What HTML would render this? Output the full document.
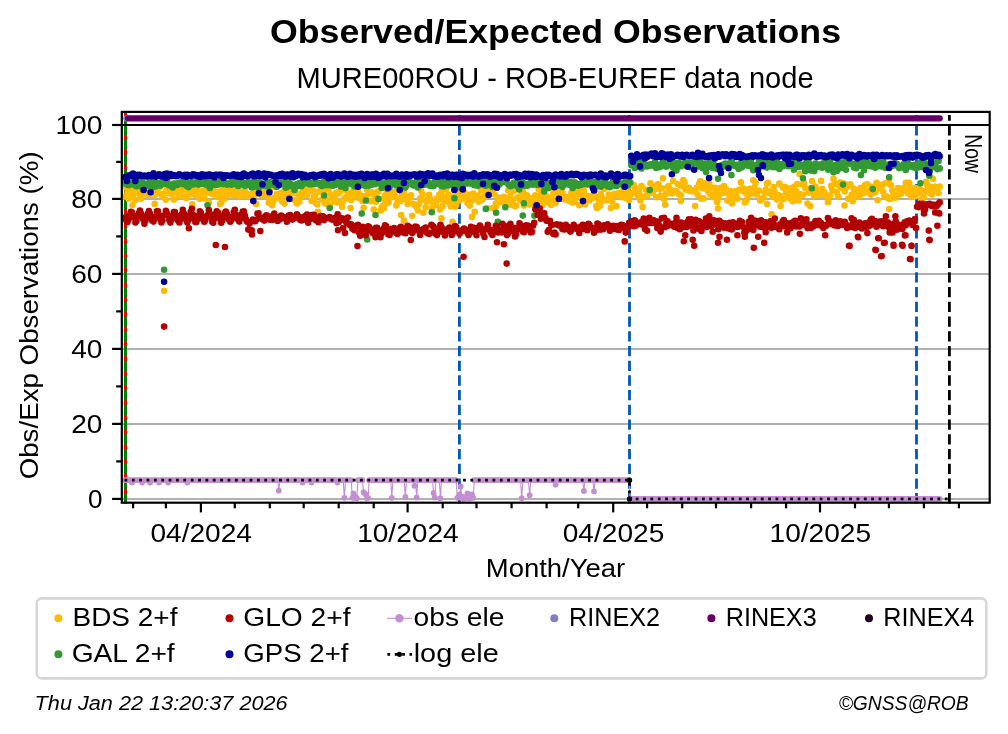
<!DOCTYPE html>
<html><head><meta charset="utf-8"><style>html,body{margin:0;padding:0;background:#fff;overflow:hidden}svg{display:block;will-change:transform}</style></head>
<body>
<svg width="1008" height="734" viewBox="0 0 1008 734" font-family='"Liberation Sans", sans-serif'>
<rect width="100%" height="100%" fill="#fff"/>
<text x="555.5" y="42.6" font-size="32.4" text-anchor="middle" font-weight="bold" font-style="normal" textLength="571" lengthAdjust="spacingAndGlyphs" >Observed/Expected Observations</text>
<text x="555.1" y="87.6" font-size="29.5" text-anchor="middle" font-weight="normal" font-style="normal" textLength="517" lengthAdjust="spacingAndGlyphs" >MURE00ROU - ROB-EUREF data node</text>
<line x1="121.8" x2="989.7" y1="499" y2="499" stroke="#b0b0b0" stroke-width="2.0"/>
<line x1="121.8" x2="989.7" y1="424" y2="424" stroke="#b0b0b0" stroke-width="2.0"/>
<line x1="121.8" x2="989.7" y1="349" y2="349" stroke="#b0b0b0" stroke-width="2.0"/>
<line x1="121.8" x2="989.7" y1="274" y2="274" stroke="#b0b0b0" stroke-width="2.0"/>
<line x1="121.8" x2="989.7" y1="199" y2="199" stroke="#b0b0b0" stroke-width="2.0"/>
<line x1="125.5" x2="125.5" y1="503.4" y2="111.9" stroke="#ee0000" stroke-width="3" stroke-dasharray="none"/>
<line x1="125.5" x2="125.5" y1="503.4" y2="115" stroke="#008000" stroke-width="3" stroke-dasharray="10.28 4.44"/>
<line x1="125.5" x2="125.5" y1="125.5" y2="115" stroke="#008000" stroke-width="3" stroke-dasharray="none"/>
<line x1="459.4" x2="459.4" y1="503.4" y2="115" stroke="#0057b7" stroke-width="2.8" stroke-dasharray="10.28 4.44"/>
<line x1="629.5" x2="629.5" y1="503.4" y2="115" stroke="#0057b7" stroke-width="2.8" stroke-dasharray="10.28 4.44"/>
<line x1="916.5" x2="916.5" y1="503.4" y2="115" stroke="#0057b7" stroke-width="2.8" stroke-dasharray="10.28 4.44"/>
<line x1="949.4" x2="949.4" y1="503.4" y2="115" stroke="#000" stroke-width="2.8" stroke-dasharray="10.28 4.44"/>
<path d="M125.2 196.5h0M126.3 187.2h0M127.5 192.3h0M128.6 198.7h0M129.7 195.9h0M130.9 189.6h0M132 194.2h0M133.1 195.3h0M134.2 186.6h0M135.4 200.1h0M136.5 191.6h0M137.6 191.9h0M138.8 187.1h0M139.9 194.8h0M141 198.8h0M142.2 194.6h0M143.3 190.6h0M144.4 194.3h0M145.5 191.2h0M146.7 194.8h0M147.8 195h0M148.9 193.4h0M150.1 191.2h0M151.2 194.7h0M152.3 187h0M153.5 194.2h0M154.6 195h0M155.7 193.4h0M156.8 189.2h0M158 186.1h0M159.1 187.8h0M160.2 186.5h0M161.4 194.2h0M162.5 196.6h0M164.7 193.4h0M165.9 191.7h0M167 190.2h0M168.1 192.7h0M169.3 191.6h0M170.4 192.3h0M171.5 194.2h0M172.7 188.3h0M173.8 199.6h0M174.9 188.7h0M176 192.5h0M177.2 191.4h0M178.3 191.9h0M179.4 196h0M180.6 192.5h0M181.7 188.5h0M182.8 189.2h0M184 189.5h0M185.1 197h0M186.2 197.9h0M187.3 195h0M188.5 192.8h0M189.6 194.2h0M190.7 191.2h0M191.9 188.9h0M193 192.3h0M194.1 190.2h0M195.3 195.2h0M196.4 193.8h0M197.5 190.8h0M198.6 195.2h0M199.8 198.8h0M200.9 192.1h0M202 191.8h0M203.2 190.5h0M204.3 198.3h0M205.4 192h0M206.5 190.2h0M207.7 192.4h0M208.8 202.4h0M209.9 190.6h0M211.1 193.5h0M212.2 189.7h0M213.3 194.4h0M214.5 191.9h0M215.6 191.9h0M216.7 197h0M217.8 191.9h0M219 195.6h0M220.1 204h0M221.2 195.7h0M222.4 190.1h0M223.5 188.6h0M224.6 198.5h0M225.8 194h0M226.9 193.2h0M228 194.9h0M229.1 188.7h0M230.3 193.4h0M231.4 190.8h0M232.5 190.2h0M233.7 195.6h0M234.8 190.5h0M235.9 194.8h0M237.1 195h0M238.2 192.7h0M239.3 196.3h0M240.4 191.2h0M241.6 194.4h0M242.7 194.3h0M243.8 196h0M245 191.3h0M246.1 193.4h0M247.2 194h0M248.3 194.2h0M249.5 195.9h0M250.6 194.4h0M251.7 194.1h0M252.9 196.2h0M254 195.8h0M255.1 189.4h0M256.3 189.5h0M257.4 191.9h0M258.5 193.1h0M259.6 193.6h0M260.8 192.6h0M261.9 195.4h0M263 191.6h0M264.2 189.2h0M265.3 191.1h0M266.4 189.7h0M267.6 196.9h0M268.7 202.7h0M269.8 189.8h0M270.9 197.8h0M272.1 201.2h0M273.2 201.6h0M274.3 198.3h0M275.5 187.1h0M276.6 194.2h0M277.7 196.1h0M278.8 197.6h0M280 198.6h0M281.1 193.1h0M282.2 201.6h0M283.4 192.6h0M284.5 203.6h0M285.6 195h0M286.8 193.8h0M287.9 190.6h0M289 191.3h0M290.1 196.9h0M291.3 189.4h0M292.4 191.6h0M293.5 192h0M294.7 200.2h0M295.8 193.1h0M296.9 203.5h0M298.1 194.2h0M299.2 201.8h0M300.3 196.8h0M301.4 196.4h0M302.6 192.1h0M303.7 188.4h0M304.8 193.3h0M306 189.6h0M307.1 195.3h0M308.2 190.8h0M309.4 190.9h0M310.5 189.8h0M311.6 200.9h0M312.7 190.1h0M313.9 196.5h0M315 196.2h0M316.1 203.3h0M317.3 204.4h0M318.4 191.8h0M319.5 191.8h0M320.6 188.3h0M321.8 199.6h0M322.9 191.8h0M324 193.6h0M325.2 203.6h0M326.3 186.1h0M327.4 200.4h0M328.6 189h0M329.7 205.4h0M330.8 194.2h0M331.9 195.3h0M333.1 196.6h0M334.2 201.5h0M335.3 199h0M336.5 192.6h0M337.6 202.4h0M338.7 193.2h0M339.9 191.8h0M341 189.4h0M342.1 185.1h0M343.2 200.9h0M344.4 198.2h0M345.5 190.1h0M346.6 196.7h0M347.8 192.8h0M348.9 198.4h0M350 196.6h0M351.2 200.1h0M352.3 195.8h0M353.4 190.5h0M354.5 195.6h0M355.7 192.9h0M356.8 192.3h0M357.9 190.6h0M359.1 198.3h0M360.2 195.3h0M361.3 198.1h0M362.4 201h0M363.6 207.7h0M364.7 196.1h0M365.8 197.6h0M367 189.4h0M368.1 194.3h0M369.2 201.2h0M370.4 193.3h0M371.5 192.2h0M372.6 201.2h0M373.7 209.5h0M374.9 196.9h0M376 201.7h0M377.1 192h0M378.3 191.4h0M379.4 198.7h0M380.5 210.5h0M381.7 207.9h0M382.8 205.8h0M383.9 199.6h0M385 195.3h0M386.2 202h0M387.3 193.4h0M388.4 202.7h0M389.6 197.8h0M390.7 195.4h0M391.8 193.3h0M392.9 197h0M394.1 191.8h0M395.2 196.2h0M396.3 205.4h0M397.5 202.1h0M398.6 199.4h0M399.7 199.4h0M400.9 200.9h0M402 194.9h0M403.1 196.5h0M404.2 192.2h0M405.4 196h0M406.5 199.2h0M407.6 203.9h0M408.8 198.3h0M409.9 197.5h0M411 195.4h0M412.2 215.7h0M413.3 203.8h0M414.4 204.9h0M415.5 205.7h0M416.7 207.2h0M417.8 210.2h0M418.9 204.1h0M420.1 198.5h0M421.2 190.7h0M422.3 194.3h0M423.5 199.7h0M424.6 199.8h0M425.7 207.4h0M426.8 201.7h0M428 200.5h0M429.1 194.8h0M430.2 201.3h0M431.4 199.9h0M432.5 208.2h0M433.6 204.1h0M434.7 201.8h0M435.9 204.8h0M437 198.4h0M438.1 199.7h0M439.3 194.8h0M440.4 199.1h0M441.5 191.6h0M442.7 205.9h0M443.8 196.7h0M444.9 201.1h0M446 189.3h0M447.2 199.6h0M448.3 194.5h0M449.4 202.7h0M450.6 206.2h0M451.7 196.5h0M452.8 200.6h0M454 197.4h0M455.1 200.3h0M456.2 204.9h0M457.3 191.8h0M458.5 197.1h0M459.6 200.5h0M460.7 198.1h0M461.9 190.3h0M463 198.6h0M464.1 192.3h0M465.2 197.9h0M466.4 198.6h0M467.5 203.3h0M468.6 194.9h0M469.8 205.7h0M470.9 201.2h0M472 216.9h0M473.2 193.5h0M474.3 196.6h0M475.4 197.4h0M476.5 199.5h0M477.7 195.5h0M478.8 201.8h0M479.9 199.2h0M481.1 190h0M482.2 199.6h0M483.3 190.4h0M484.5 196.7h0M485.6 196.5h0M486.7 194.2h0M487.8 208.3h0M489 189.5h0M490.1 194.1h0M491.2 192.1h0M492.4 192.1h0M493.5 207.9h0M494.6 194.5h0M495.8 203.5h0M496.9 204.2h0M498 198.8h0M499.1 197.7h0M500.3 202.1h0M501.4 198.2h0M502.5 199.9h0M503.7 196.8h0M504.8 201.5h0M505.9 205.2h0M507 199h0M508.2 190.3h0M509.3 200.2h0M510.4 196.2h0M511.6 205h0M512.7 202.3h0M513.8 191h0M515 206.2h0M516.1 205.7h0M517.2 197.8h0M518.3 197.3h0M519.5 196.9h0M520.6 200.2h0M521.7 192.6h0M522.9 191.2h0M524 205.6h0M525.1 197.9h0M526.3 195h0M527.4 195.8h0M528.5 198.1h0M529.6 204.4h0M530.8 198.7h0M531.9 203.1h0M533 204.2h0M534.2 197.1h0M535.3 195.3h0M536.4 205.5h0M537.6 199.9h0M538.7 189.1h0M539.8 202.7h0M540.9 194h0M542.1 198.9h0M543.2 199.6h0M544.3 200h0M545.5 188.3h0M546.6 196.4h0M547.7 201.8h0M548.8 202.8h0M550 199.1h0M551.1 204.9h0M552.2 197.6h0M553.4 193.7h0M554.5 188.7h0M555.6 203.1h0M556.8 182.3h0M557.9 189.9h0M559 194.7h0M560.1 196.5h0M561.3 188.3h0M562.4 192.2h0M563.5 199.3h0M564.7 198.1h0M565.8 196.9h0M566.9 199.7h0M568.1 198.3h0M569.2 201h0M570.3 200h0M571.4 192.9h0M572.6 202.6h0M573.7 198.6h0M574.8 201.8h0M576 192.9h0M577.1 193.9h0M578.2 189.6h0M579.3 205.2h0M580.5 190.4h0M581.6 198.4h0M582.7 196h0M583.9 190.8h0M585 204.2h0M586.1 196.3h0M587.3 196h0M588.4 198.3h0M589.5 200.2h0M590.6 197.7h0M591.8 198.6h0M592.9 195.6h0M594 193.7h0M595.2 189.4h0M596.3 206h0M597.4 197.4h0M598.6 199.9h0M599.7 205.9h0M600.8 193.8h0M601.9 197.6h0M603.1 200.8h0M604.2 188.7h0M605.3 188.1h0M606.5 200.2h0M607.6 200h0M608.7 194.5h0M609.9 198.4h0M611 207.7h0M612.1 201.4h0M613.2 194.6h0M614.4 193.7h0M615.5 195.1h0M616.6 206.1h0M617.8 195.5h0M618.9 193.1h0M620 195.7h0M621.1 197.2h0M622.3 196.4h0M623.4 189.7h0M624.5 194.5h0M625.7 198.1h0M626.8 191.7h0M627.9 187.3h0M629.1 199.9h0M630.2 194h0M631.3 194.4h0M632.4 193h0M633.6 184.7h0M634.7 187.6h0M635.8 190.5h0M637 193.7h0M638.1 196.5h0M639.2 192.1h0M640.4 200.5h0M641.5 186.1h0M642.6 207.1h0M643.7 197h0M644.9 196.3h0M646 189.8h0M647.1 195.8h0M648.3 190.3h0M649.4 191.8h0M650.5 183.2h0M651.7 189h0M652.8 192.7h0M653.9 187.6h0M655 189h0M656.2 197.3h0M657.3 184.6h0M658.4 184.1h0M659.6 189.1h0M660.7 195.6h0M661.8 188.3h0M662.9 178.2h0M664.1 198.9h0M665.2 204.8h0M666.3 193.5h0M667.5 187h0M668.6 186.1h0M669.7 188.7h0M670.9 192.2h0M672 193.5h0M673.1 181.1h0M674.2 190.7h0M675.4 190.8h0M676.5 191.5h0M677.6 184h0M678.8 194h0M679.9 185.2h0M681 195.3h0M682.2 185.9h0M683.3 180h0M684.4 182.3h0M685.5 189.5h0M686.7 188.4h0M687.8 190.2h0M688.9 187.8h0M690.1 191.1h0M691.2 190h0M692.3 191.1h0M693.4 191h0M694.6 191.6h0M695.7 191.7h0M696.8 187.5h0M698 195.3h0M699.1 183.8h0M700.2 181.4h0M701.4 198.8h0M702.5 188.2h0M703.6 198.4h0M704.7 183.4h0M705.9 188.7h0M707 186.2h0M708.1 191.6h0M709.3 183.5h0M710.4 194.2h0M711.5 187.5h0M712.7 197h0M713.8 196.2h0M714.9 187.9h0M716 192.5h0M717.2 202.2h0M718.3 198.1h0M719.4 194.6h0M720.6 187.8h0M721.7 192.9h0M722.8 191.9h0M724 186h0M725.1 192.6h0M726.2 189.3h0M727.3 200.6h0M728.5 192.9h0M729.6 197.9h0M730.7 191.4h0M731.9 203.4h0M733 198.5h0M734.1 191.3h0M735.2 194.9h0M736.4 195.5h0M737.5 198.7h0M738.6 190.1h0M739.8 189.5h0M740.9 182.4h0M742 190.6h0M743.2 188.4h0M744.3 188.9h0M745.4 192.7h0M746.5 200.3h0M747.7 196h0M748.8 193.8h0M749.9 188.7h0M751.1 192.1h0M752.2 193.4h0M753.3 180.2h0M754.5 187.2h0M755.6 182.6h0M756.7 194.4h0M757.8 191.5h0M759 190.5h0M760.1 200.6h0M761.2 199.3h0M762.4 198.2h0M763.5 197.8h0M764.6 192.4h0M765.7 189.8h0M766.9 183.8h0M768 182.7h0M769.1 193h0M770.3 191.5h0M771.4 192.5h0M772.5 196.4h0M773.7 187.1h0M774.8 192.1h0M775.9 196h0M777 199.6h0M778.2 195h0M779.3 183.5h0M780.4 196.1h0M781.6 199.7h0M782.7 187.6h0M783.8 199.1h0M785 187.1h0M786.1 192.3h0M787.2 191.2h0M788.3 195.5h0M789.5 188.6h0M790.6 198.8h0M791.7 191.2h0M792.9 201.2h0M794 186.8h0M795.1 196.3h0M796.3 191.4h0M797.4 184.1h0M798.5 200.4h0M799.6 174.1h0M800.8 194.4h0M801.9 184.3h0M803 195h0M804.2 183.1h0M805.3 188h0M806.4 188.6h0M807.5 203.6h0M808.7 192.8h0M809.8 192h0M810.9 188.1h0M812.1 181.1h0M813.2 192.2h0M814.3 196.3h0M815.5 186.5h0M816.6 190.3h0M817.7 191.5h0M818.8 193.8h0M820 195.2h0M821.1 180.9h0M822.2 188.8h0M823.4 193.6h0M824.5 192.6h0M825.6 196h0M826.8 195.6h0M827.9 202.3h0M829 196.4h0M830.1 195.4h0M831.3 185.9h0M832.4 190.1h0M833.5 178.7h0M834.7 183.3h0M835.8 183.8h0M836.9 192.2h0M838.1 196.8h0M839.2 186.1h0M840.3 182.5h0M841.4 185.5h0M842.6 188.3h0M843.7 183.5h0M844.8 191.4h0M846 184.3h0M847.1 187.1h0M848.2 198.8h0M849.3 185.3h0M850.5 184.2h0M851.6 194.5h0M852.7 201.2h0M853.9 188.8h0M855 189.7h0M856.1 197h0M857.3 193h0M858.4 193.7h0M859.5 196.3h0M860.6 187.9h0M861.8 188.4h0M862.9 192.9h0M864 192.9h0M865.2 184.7h0M866.3 191.3h0M867.4 184.4h0M868.6 192.4h0M869.7 190.8h0M870.8 194.7h0M871.9 186.7h0M873.1 189.9h0M874.2 189.8h0M875.3 192.3h0M876.5 182.9h0M877.6 200.3h0M878.7 188.3h0M879.8 188.4h0M881 187.8h0M882.1 184.9h0M883.2 191.8h0M884.4 196.7h0M885.5 183.3h0M886.6 196.5h0M887.8 197.9h0M888.9 180h0M890 199.1h0M891.1 185.2h0M892.3 190.5h0M893.4 194.6h0M894.5 197.5h0M895.7 197.7h0M896.8 194.8h0M897.9 188.1h0M899.1 189.4h0M900.2 194.5h0M901.3 193.3h0M902.4 188.3h0M903.6 190.6h0M904.7 189.1h0M905.8 182.7h0M907 191.3h0M908.1 193.4h0M909.2 182.7h0M910.4 187.6h0M911.5 197h0M912.6 189.9h0M913.7 196.2h0M914.9 196.4h0M916 188.1h0M917.1 193.7h0M918.3 190.9h0M919.4 188.5h0M920.5 189.7h0M921.6 199.6h0M922.8 193.7h0M923.9 197.4h0M925 191h0M926.2 181.7h0M927.3 184.9h0M928.4 185.7h0M929.6 192.8h0M930.7 190.1h0M931.8 194.4h0M932.9 178.8h0M934.1 186.8h0M935.2 186.8h0M936.3 190.7h0M937.5 187.3h0M938.6 193.1h0M939.7 186.6h0M164.1 290.7h0M132.5 205.3h0M154.7 203.9h0M165.8 199.7h0M192.2 204.4h0M221.4 202.5h0M222.8 212.8h0M256.1 203.9h0M272.2 205.3h0M297.8 201.7h0M317.8 211.7h0M342.2 206.7h0M350.6 208h0M383.9 208h0M401.1 215h0M403.9 220.6h0M423.3 212.8h0M440 209.4h0M441.4 218.3h0M452.5 221.9h0M455.3 206.7h0M474.7 211.7h0M495.6 206.7h0M542.2 205.3h0M596.9 208h0M610.8 208h0M680.8 201h0M695.1 206.1h0M718 208.5h0M744.8 202.5h0M767.1 204h0M771.6 214.4h0M780.5 206.1h0M810.3 206.1h0M844.5 205.5h0M889.2 209h0" stroke="#fdba02" stroke-width="6.6" stroke-linecap="round" fill="none"/>
<path d="M125.2 182h0M126.3 184.3h0M127.5 182.4h0M128.6 185.2h0M129.7 184.6h0M130.9 184.4h0M132 183.6h0M133.1 182h0M134.2 180h0M135.4 185.5h0M136.5 186.3h0M137.6 186h0M138.8 183.1h0M139.9 181.5h0M141 186.2h0M142.2 179.8h0M143.3 185.9h0M144.4 184.5h0M145.5 186.2h0M146.7 183.7h0M147.8 185.8h0M148.9 185.7h0M150.1 181.5h0M151.2 187h0M152.3 182h0M153.5 187.1h0M154.6 182h0M155.7 185.6h0M156.8 186.1h0M158 183.2h0M159.1 183.6h0M160.2 185.6h0M161.4 182.5h0M162.5 183.1h0M164.7 183.9h0M165.9 183.9h0M167 181.1h0M168.1 184.2h0M169.3 185.5h0M170.4 184.6h0M171.5 184.2h0M172.7 187.5h0M173.8 183.5h0M174.9 184.2h0M176 183.5h0M177.2 184.9h0M178.3 184.1h0M179.4 182.5h0M180.6 183.2h0M181.7 182.4h0M182.8 184.3h0M184 183h0M185.1 182.2h0M186.2 181.5h0M187.3 186.4h0M188.5 187.1h0M189.6 184.1h0M190.7 184.2h0M191.9 182.2h0M193 184.5h0M194.1 182.9h0M195.3 183.8h0M196.4 184.2h0M197.5 181.1h0M198.6 184.7h0M199.8 183.1h0M200.9 183.9h0M202 182.9h0M203.2 180.4h0M204.3 181.8h0M205.4 184.4h0M206.5 185.1h0M207.7 180.5h0M208.8 182.9h0M209.9 188h0M211.1 183.4h0M212.2 184.7h0M213.3 182.1h0M214.5 183.9h0M215.6 185h0M216.7 182.5h0M217.8 184.8h0M219 183.3h0M220.1 182.7h0M221.2 179.9h0M222.4 183.9h0M223.5 180.2h0M224.6 183h0M225.8 184.2h0M226.9 184.7h0M228 183.3h0M229.1 183.6h0M230.3 183.2h0M231.4 184.8h0M232.5 179.7h0M233.7 182.6h0M234.8 181.9h0M235.9 184.2h0M237.1 182.9h0M238.2 186h0M239.3 182.9h0M240.4 182.7h0M241.6 184.4h0M242.7 182.4h0M243.8 182.7h0M245 186h0M246.1 185.5h0M247.2 183h0M248.3 182h0M249.5 184.4h0M250.6 182.9h0M251.7 187.5h0M252.9 187.1h0M254 181.2h0M255.1 182.3h0M256.3 185.7h0M257.4 183h0M258.5 187.9h0M259.6 182.2h0M260.8 183.1h0M261.9 185.1h0M263 185.4h0M264.2 185.8h0M265.3 184h0M266.4 186.3h0M267.6 182.6h0M268.7 185.9h0M269.8 183.1h0M270.9 182.1h0M272.1 183.8h0M273.2 184h0M274.3 185.1h0M275.5 181.3h0M276.6 186.9h0M277.7 181.5h0M278.8 185.3h0M280 180.1h0M281.1 183.9h0M282.2 181.5h0M283.4 181.6h0M284.5 182.2h0M285.6 187.8h0M286.8 187.2h0M287.9 185.2h0M289 182.6h0M290.1 183.5h0M291.3 186h0M292.4 185.6h0M293.5 185.2h0M294.7 184.8h0M295.8 185.3h0M296.9 184.3h0M298.1 186.2h0M299.2 183h0M300.3 184.6h0M301.4 186.3h0M302.6 182.5h0M303.7 181.4h0M304.8 183.5h0M306 182.4h0M307.1 183.3h0M308.2 182.3h0M309.4 184.2h0M310.5 184.3h0M311.6 184.1h0M312.7 183h0M313.9 183.8h0M315 182.4h0M316.1 183.8h0M317.3 182.5h0M318.4 182.7h0M319.5 183.2h0M320.6 185h0M321.8 186h0M322.9 182.4h0M324 181.9h0M325.2 184.3h0M326.3 185.3h0M327.4 183.5h0M328.6 181.9h0M329.7 185.3h0M330.8 183.2h0M331.9 183.7h0M333.1 185.8h0M334.2 182.5h0M335.3 184.9h0M336.5 182.5h0M337.6 183.3h0M338.7 180.3h0M339.9 182.8h0M341 186.6h0M342.1 180.3h0M343.2 182.1h0M344.4 183.9h0M345.5 188.1h0M346.6 184h0M347.8 181.6h0M348.9 183.1h0M350 182.3h0M351.2 184.1h0M352.3 182.4h0M353.4 182.2h0M354.5 186.5h0M355.7 183.4h0M356.8 186.3h0M357.9 179.8h0M359.1 185.6h0M360.2 180.3h0M361.3 182.5h0M362.4 184.7h0M363.6 183.6h0M364.7 185.8h0M365.8 181.7h0M367 184.9h0M368.1 185.9h0M369.2 183.5h0M370.4 181.7h0M371.5 184.7h0M372.6 182.7h0M373.7 182.5h0M374.9 184.2h0M376 179.2h0M377.1 183.4h0M378.3 182.8h0M379.4 182.7h0M380.5 182.3h0M381.7 187.9h0M382.8 185.6h0M383.9 184.1h0M385 183.2h0M386.2 182.9h0M387.3 188.8h0M388.4 182.5h0M389.6 187.3h0M390.7 179h0M391.8 184.4h0M392.9 183.5h0M394.1 181h0M395.2 184.1h0M396.3 185.4h0M397.5 182.5h0M398.6 179.9h0M399.7 183.4h0M400.9 183.2h0M402 186.9h0M403.1 186.6h0M404.2 181.2h0M405.4 187.6h0M406.5 185.4h0M407.6 179.7h0M408.8 182h0M409.9 183.6h0M411 182.6h0M412.2 183h0M413.3 185.4h0M414.4 185.1h0M415.5 185.6h0M416.7 181.3h0M417.8 187.5h0M418.9 181.1h0M420.1 183.4h0M421.2 181.2h0M422.3 182.7h0M423.5 183.4h0M424.6 184.8h0M425.7 182.4h0M426.8 180h0M428 182.4h0M429.1 183.3h0M430.2 185.9h0M431.4 184.7h0M432.5 185.4h0M433.6 186.1h0M434.7 181.5h0M435.9 182.3h0M437 183.3h0M438.1 183.9h0M439.3 181.5h0M440.4 179.8h0M441.5 186h0M442.7 185h0M443.8 186.4h0M444.9 184.7h0M446 181h0M447.2 179h0M448.3 185.5h0M449.4 181.8h0M450.6 182h0M451.7 180.6h0M452.8 184.8h0M454 186.3h0M455.1 182.2h0M456.2 184h0M457.3 185.1h0M458.5 181.8h0M459.6 187.2h0M460.7 184.9h0M461.9 183h0M463 185.7h0M464.1 183.1h0M465.2 181.7h0M466.4 182.6h0M467.5 183.4h0M468.6 182.6h0M469.8 182.1h0M470.9 180.8h0M472 184h0M473.2 180.1h0M474.3 185.2h0M475.4 184.8h0M476.5 182.3h0M477.7 185.7h0M478.8 182.9h0M479.9 183.9h0M481.1 181.5h0M482.2 182h0M483.3 184.8h0M484.5 180.8h0M485.6 185.7h0M486.7 183.8h0M487.8 183.6h0M489 181.3h0M490.1 185.3h0M491.2 182.8h0M492.4 187h0M493.5 178.5h0M494.6 183.8h0M495.8 185.7h0M496.9 180.7h0M498 185.1h0M499.1 184.8h0M500.3 180h0M501.4 182.8h0M502.5 181.8h0M503.7 181.9h0M504.8 180.3h0M505.9 181.5h0M507 182h0M508.2 184.2h0M509.3 185.4h0M510.4 186.3h0M511.6 185.3h0M512.7 184.3h0M513.8 182.8h0M515 185.3h0M516.1 185.8h0M517.2 185.1h0M518.3 182.2h0M519.5 185.3h0M520.6 181.1h0M521.7 184.3h0M522.9 182.9h0M524 185.7h0M525.1 185.6h0M526.3 184.3h0M527.4 185.7h0M528.5 184h0M529.6 184.6h0M530.8 181.2h0M531.9 184.6h0M533 183.4h0M534.2 184.6h0M535.3 181.2h0M536.4 182.8h0M537.6 184.9h0M538.7 184.4h0M539.8 182.9h0M540.9 184.2h0M542.1 180.1h0M543.2 185.6h0M544.3 187.1h0M545.5 186.2h0M546.6 183.9h0M547.7 183.4h0M548.8 188h0M550 187h0M551.1 182.7h0M552.2 185.1h0M553.4 180.7h0M554.5 184.5h0M555.6 181.7h0M556.8 183.4h0M557.9 181.6h0M559 185.6h0M560.1 185.1h0M561.3 185.8h0M562.4 187h0M563.5 181.6h0M564.7 183.5h0M565.8 180.5h0M566.9 184.3h0M568.1 183.4h0M569.2 184.8h0M570.3 181.6h0M571.4 182h0M572.6 188.1h0M573.7 183.3h0M574.8 182.3h0M576 184h0M577.1 183.9h0M578.2 185.7h0M579.3 184.4h0M580.5 184.9h0M581.6 184.8h0M582.7 180.4h0M583.9 184.2h0M585 181.7h0M586.1 182.7h0M587.3 184.4h0M588.4 181h0M589.5 184.4h0M590.6 182.1h0M591.8 182.1h0M592.9 182.6h0M594 182.1h0M595.2 183.9h0M596.3 185.9h0M597.4 182h0M598.6 186.1h0M599.7 184.4h0M600.8 186.7h0M601.9 183.2h0M603.1 183.9h0M604.2 181.4h0M605.3 181.4h0M606.5 185.2h0M607.6 186.2h0M608.7 185.1h0M609.9 187.3h0M611 184h0M612.1 185.2h0M613.2 180.1h0M614.4 183.6h0M615.5 185.9h0M616.6 185.9h0M617.8 181.3h0M618.9 183.7h0M620 183.4h0M621.1 184.3h0M622.3 183.6h0M623.4 185h0M624.5 185.7h0M625.7 178.8h0M626.8 182h0M627.9 185.4h0M629.1 181h0M630.2 182.5h0M631.3 165.3h0M632.4 165.4h0M633.6 162.9h0M634.7 168h0M635.8 161.4h0M637 166.7h0M638.1 166.7h0M639.2 162h0M640.4 163.5h0M641.5 168.4h0M642.6 164.1h0M643.7 165.2h0M644.9 166.2h0M646 164.9h0M647.1 166.5h0M648.3 165.4h0M649.4 165.8h0M650.5 164.4h0M651.7 164.2h0M652.8 165.6h0M653.9 164.4h0M655 161.7h0M656.2 168h0M657.3 164.5h0M658.4 165.6h0M659.6 167.3h0M660.7 166.4h0M661.8 163.9h0M662.9 159.4h0M664.1 163h0M665.2 165.2h0M666.3 166.8h0M667.5 164.1h0M668.6 165.3h0M669.7 163.8h0M670.9 165.4h0M672 160.7h0M673.1 167.8h0M674.2 164.7h0M675.4 163.2h0M676.5 170.6h0M677.6 166.9h0M678.8 162.9h0M679.9 164.2h0M681 166.2h0M682.2 164.7h0M683.3 163.8h0M684.4 165.3h0M685.5 162.2h0M686.7 165.3h0M687.8 162.8h0M688.9 162.8h0M690.1 165h0M691.2 167.4h0M692.3 163.3h0M693.4 163.2h0M694.6 158.6h0M695.7 161.6h0M696.8 163.3h0M698 161.1h0M699.1 166.5h0M700.2 161.3h0M701.4 164.3h0M702.5 168.1h0M703.6 166.3h0M704.7 163.9h0M705.9 169.7h0M707 165.1h0M708.1 165.1h0M709.3 166.7h0M710.4 160.4h0M711.5 165.6h0M712.7 167.9h0M713.8 164.3h0M714.9 168.1h0M716 168.3h0M717.2 168.9h0M718.3 166.7h0M719.4 168.5h0M720.6 165.9h0M721.7 167.5h0M722.8 164.8h0M724 165.6h0M725.1 163.6h0M726.2 164.9h0M727.3 164.4h0M728.5 165h0M729.6 163.3h0M730.7 164.5h0M731.9 160.3h0M733 164.6h0M734.1 165.8h0M735.2 166h0M736.4 164.8h0M737.5 165.7h0M738.6 169h0M739.8 168.3h0M740.9 162.9h0M742 167.2h0M743.2 164.6h0M744.3 163.2h0M745.4 161.5h0M746.5 164.7h0M747.7 165.7h0M748.8 163.7h0M749.9 159.4h0M751.1 162.6h0M752.2 167.3h0M753.3 170.3h0M754.5 167.9h0M755.6 165.6h0M756.7 165h0M757.8 164.3h0M759 159.7h0M760.1 161.5h0M761.2 160.5h0M762.4 166.3h0M763.5 162.7h0M764.6 164h0M765.7 166.4h0M766.9 167.6h0M768 161.4h0M769.1 164.6h0M770.3 164h0M771.4 162.4h0M772.5 167.1h0M773.7 165.9h0M774.8 166.5h0M775.9 167.2h0M777 162.4h0M778.2 164h0M779.3 168.9h0M780.4 164.2h0M781.6 164.1h0M782.7 166.3h0M783.8 165.3h0M785 164.4h0M786.1 164.6h0M787.2 165.5h0M788.3 166.2h0M789.5 165.2h0M790.6 161.9h0M791.7 165.4h0M792.9 165.6h0M794 159.8h0M795.1 164.9h0M796.3 164.2h0M797.4 163.9h0M798.5 166.9h0M799.6 166.7h0M800.8 165.8h0M801.9 164.7h0M803 178.3h0M804.2 167.4h0M805.3 165h0M806.4 162.2h0M807.5 166.6h0M808.7 162.6h0M809.8 164.4h0M810.9 170.4h0M812.1 166.2h0M813.2 166.7h0M814.3 171.1h0M815.5 163.6h0M816.6 165.3h0M817.7 165.3h0M818.8 166.9h0M820 164.5h0M821.1 165.1h0M822.2 167.8h0M823.4 163.3h0M824.5 162.9h0M825.6 160.6h0M826.8 164.3h0M827.9 163.7h0M829 164.9h0M830.1 160.7h0M831.3 165.6h0M832.4 166h0M833.5 172.3h0M834.7 170.8h0M835.8 164.7h0M836.9 170.9h0M838.1 164.1h0M839.2 168.5h0M840.3 162.7h0M841.4 166h0M842.6 167.9h0M843.7 162.3h0M844.8 162.4h0M846 169.7h0M847.1 163.9h0M848.2 163.1h0M849.3 161.7h0M850.5 163h0M851.6 164h0M852.7 163.8h0M853.9 167.5h0M855 165h0M856.1 168.3h0M857.3 164.2h0M858.4 160.6h0M859.5 164.9h0M860.6 162.5h0M861.8 166.2h0M862.9 164.7h0M864 170.3h0M865.2 162h0M866.3 166h0M867.4 162.9h0M868.6 163.4h0M869.7 165.9h0M870.8 166.1h0M871.9 162.3h0M873.1 166.7h0M874.2 164.5h0M875.3 167.8h0M876.5 162.4h0M877.6 165.9h0M878.7 164.4h0M879.8 164.6h0M881 166.5h0M882.1 161h0M883.2 161.9h0M884.4 164h0M885.5 167.9h0M886.6 167.1h0M887.8 166.7h0M888.9 167.6h0M890 164.1h0M891.1 165.3h0M892.3 166.1h0M893.4 163.7h0M894.5 164.9h0M895.7 163.8h0M896.8 163.7h0M897.9 166.3h0M899.1 168.1h0M900.2 166.9h0M901.3 167.4h0M902.4 165.7h0M903.6 164.4h0M904.7 167.4h0M905.8 170h0M907 167.6h0M908.1 163h0M909.2 164.9h0M910.4 165.1h0M911.5 166.1h0M912.6 167.1h0M913.7 166.5h0M914.9 164.8h0M916 168.2h0M917.1 164.8h0M918.3 167.5h0M919.4 163h0M920.5 164.8h0M921.6 160.9h0M922.8 166.9h0M923.9 162h0M925 163.4h0M926.2 165.5h0M927.3 166h0M928.4 167.3h0M929.6 170.3h0M930.7 168.1h0M931.8 162.6h0M932.9 165.3h0M934.1 167.1h0M935.2 165.7h0M936.3 160.7h0M937.5 169.2h0M938.6 161.1h0M939.7 168.4h0M164.1 269.7h0M207.5 205.3h0M324.2 195.5h0M329.7 208h0M365.8 200.5h0M378.3 198.9h0M375.5 215h0M361.7 213.6h0M367.2 239.4h0M294.4 190h0M431.7 212.2h0M454.4 198.3h0M485.8 208.9h0M496.1 212.8h0M505.3 207.2h0M519.2 189.4h0M523.9 203.3h0M522.8 215.6h0M497.8 221.9h0M534.4 215.6h0M544.2 191.4h0M649.7 190h0M706.1 172.1h0M718 178.7h0M731.4 175.1h0M738.9 168.3h0M793.9 169.8h0M805.2 171.3h0M828.2 169.8h0M843 184.6h0M860.9 175.1h0M889.2 177.2h0M811.8 188.2h0M872.8 189.1h0M920.4 183.2h0M929.3 175.7h0" stroke="#339933" stroke-width="6.6" stroke-linecap="round" fill="none"/>
<path d="M125.2 217.5h0M126.3 220.2h0M127.5 222h0M128.6 219.6h0M129.7 215.1h0M130.9 211.8h0M132 212.6h0M133.1 215.6h0M134.2 217.2h0M135.4 222.4h0M136.5 221h0M137.6 216.9h0M138.8 213.4h0M139.9 210.5h0M141 213.6h0M142.2 216.7h0M143.3 219.4h0M144.4 223.8h0M145.5 220.4h0M146.7 216.4h0M147.8 213.9h0M148.9 211.1h0M150.1 213.8h0M151.2 217.6h0M152.3 220.7h0M153.5 221.6h0M154.6 218.7h0M155.7 216.5h0M156.8 211.2h0M158 211.2h0M159.1 215.5h0M160.2 219h0M161.4 222.5h0M162.5 220.6h0M164.7 215.1h0M165.9 210.7h0M167 213.5h0M168.1 215.7h0M169.3 220h0M170.4 222.6h0M171.5 219.4h0M172.7 215.7h0M173.8 212.1h0M174.9 212.1h0M176 215.6h0M177.2 219h0M178.3 220.9h0M179.4 222.4h0M180.6 219h0M181.7 214.2h0M182.8 209.7h0M184 213.9h0M185.1 217.5h0M186.2 219.8h0M187.3 222.6h0M188.5 220.1h0M189.6 215.5h0M190.7 211.8h0M191.9 208.7h0M193 214.7h0M194.1 218.2h0M195.3 222h0M196.4 222h0M197.5 218.9h0M198.6 215.8h0M199.8 211.3h0M200.9 212.9h0M202 216.4h0M203.2 219.5h0M204.3 221.8h0M205.4 220h0M206.5 216.8h0M207.7 215h0M208.8 210h0M209.9 213.9h0M211.1 216.7h0M212.2 221.8h0M213.3 222.7h0M214.5 218.5h0M215.6 214.1h0M216.7 211.4h0M217.8 212.6h0M219 215.7h0M220.1 218.9h0M221.2 222.8h0M222.4 220.5h0M223.5 217.5h0M224.6 213.5h0M225.8 211.6h0M226.9 213.7h0M228 216.5h0M229.1 219.7h0M230.3 221.7h0M231.4 220h0M232.5 216.9h0M233.7 212h0M234.8 209.7h0M235.9 214.8h0M237.1 218.3h0M238.2 219.8h0M239.3 221.6h0M240.4 218.4h0M241.6 214.6h0M242.7 211.5h0M243.8 211.3h0M245 215.9h0M246.1 219.5h0M247.2 221.8h0M248.3 229.6h0M249.5 223.8h0M250.6 230.3h0M251.7 230.2h0M252.9 219.5h0M254 221.3h0M255.1 221.3h0M256.3 219.7h0M257.4 213.6h0M258.5 213.2h0M259.6 217.2h0M260.8 218.6h0M261.9 218h0M263 218.3h0M264.2 220.6h0M265.3 216.4h0M266.4 215.2h0M267.6 216.9h0M268.7 218.3h0M269.8 219.7h0M270.9 216.6h0M272.1 219.9h0M273.2 216.4h0M274.3 213.5h0M275.5 216.5h0M276.6 217.2h0M277.7 220.9h0M278.8 219.6h0M280 219.2h0M281.1 215.5h0M282.2 217.4h0M283.4 216.8h0M284.5 218.2h0M285.6 217.5h0M286.8 221.7h0M287.9 219.4h0M289 215.3h0M290.1 215h0M291.3 216.4h0M292.4 219.6h0M293.5 217.2h0M294.7 218h0M295.8 217.5h0M296.9 214.2h0M298.1 216.1h0M299.2 216.7h0M300.3 220h0M301.4 220.5h0M302.6 220h0M303.7 217.6h0M304.8 216.3h0M306 217.8h0M307.1 214.6h0M308.2 222.8h0M309.4 219.2h0M310.5 218.9h0M311.6 215.1h0M312.7 216.1h0M313.9 214.9h0M315 216.9h0M316.1 220.4h0M317.3 217.6h0M318.4 222.3h0M319.5 220.2h0M320.6 216.1h0M321.8 218.3h0M322.9 216.4h0M324 220.1h0M325.2 218.8h0M326.3 218h0M327.4 218.2h0M328.6 217.8h0M329.7 217h0M330.8 218.5h0M331.9 219.4h0M333.1 219.6h0M334.2 220.1h0M335.3 217.9h0M336.5 223.3h0M337.6 214.4h0M338.7 222.2h0M339.9 218.2h0M341 218h0M342.1 218.2h0M343.2 228.1h0M344.4 220.6h0M345.5 220.9h0M346.6 222.6h0M347.8 217.5h0M348.9 224.1h0M350 225.2h0M351.2 224.4h0M352.3 228.4h0M353.4 229.2h0M354.5 230.3h0M355.7 226.5h0M356.8 225.5h0M357.9 224.7h0M359.1 232.7h0M360.2 235.7h0M361.3 228.4h0M362.4 226.8h0M363.6 230.6h0M364.7 231.9h0M365.8 235.3h0M367 231.1h0M368.1 226.2h0M369.2 227.1h0M370.4 230h0M371.5 229.5h0M372.6 233.1h0M373.7 231.3h0M374.9 233.7h0M376 227.9h0M377.1 227.8h0M378.3 231.2h0M379.4 232.4h0M380.5 237.3h0M381.7 233.4h0M382.8 230h0M383.9 228.3h0M385 225.4h0M386.2 226.4h0M387.3 231.2h0M388.4 234.5h0M389.6 234.9h0M390.7 230.5h0M391.8 228.7h0M392.9 229.1h0M394.1 228.1h0M395.2 231.7h0M396.3 232.9h0M397.5 233.9h0M398.6 229.4h0M399.7 228h0M400.9 226.8h0M402 228h0M403.1 232.5h0M404.2 230.9h0M405.4 233.2h0M406.5 230.7h0M407.6 225.9h0M408.8 226.8h0M409.9 227.2h0M411 231.2h0M412.2 233.1h0M413.3 230.9h0M414.4 228.2h0M415.5 226.6h0M416.7 227h0M417.8 230.4h0M418.9 230h0M420.1 234.9h0M421.2 231.4h0M422.3 230.5h0M423.5 229.1h0M424.6 228.3h0M425.7 227.6h0M426.8 232.6h0M428 233.5h0M429.1 233.9h0M430.2 232.9h0M431.4 224.7h0M432.5 225.9h0M433.6 226.8h0M434.7 231.7h0M435.9 234.1h0M437 235.1h0M438.1 232.3h0M439.3 228.5h0M440.4 224.7h0M441.5 227.1h0M442.7 230.9h0M443.8 232.5h0M444.9 235.4h0M446 231.1h0M447.2 229.4h0M448.3 228.9h0M449.4 227.6h0M450.6 231.7h0M451.7 234.9h0M452.8 232.8h0M454 229.2h0M455.1 226.1h0M456.2 227.1h0M457.3 231.4h0M458.5 232.3h0M459.6 233.8h0M460.7 230.6h0M461.9 231.1h0M463 230.1h0M464.1 228.5h0M465.2 229.7h0M466.4 231.6h0M467.5 232.8h0M468.6 235h0M469.8 232.7h0M470.9 226.7h0M472 228.5h0M473.2 227.6h0M474.3 229.2h0M475.4 232.6h0M476.5 235.3h0M477.7 229.9h0M478.8 227.3h0M479.9 225.6h0M481.1 228.6h0M482.2 229.3h0M483.3 233.7h0M484.5 237h0M485.6 228.6h0M486.7 228.9h0M487.8 224.7h0M489 229.3h0M490.1 230.7h0M491.2 233h0M492.4 234.9h0M493.5 229.8h0M494.6 229.6h0M495.8 225.9h0M496.9 226.6h0M498 232.5h0M499.1 230.9h0M500.3 230.3h0M501.4 232.5h0M502.5 223.8h0M503.7 228.6h0M504.8 229.7h0M505.9 226.3h0M507 235.1h0M508.2 233.5h0M509.3 228.4h0M510.4 223.9h0M511.6 228.9h0M512.7 227.5h0M513.8 231.4h0M515 236.5h0M516.1 234.2h0M517.2 229.7h0M518.3 227.5h0M519.5 223.3h0M520.6 225.1h0M521.7 228.4h0M522.9 231.4h0M524 232.2h0M525.1 229.9h0M526.3 225.3h0M527.4 228.7h0M528.5 225.8h0M529.6 228.3h0M530.8 232.4h0M531.9 231.9h0M533 225.7h0M534.2 222.8h0M535.3 209.2h0M536.4 205.8h0M537.6 214.8h0M538.7 214.4h0M539.8 208.6h0M540.9 218.8h0M542.1 216.5h0M543.2 217h0M544.3 213.4h0M545.5 218h0M546.6 220.7h0M547.7 231.8h0M548.8 230h0M550 220.7h0M551.1 224.4h0M552.2 225.1h0M553.4 234h0M554.5 232.5h0M555.6 234.4h0M556.8 224.4h0M557.9 224.7h0M559 225.4h0M560.1 224.9h0M561.3 226.4h0M562.4 229.1h0M563.5 228.6h0M564.7 229.4h0M565.8 224.8h0M566.9 226.7h0M568.1 227h0M569.2 229h0M570.3 231.6h0M571.4 230.1h0M572.6 228h0M573.7 224.8h0M574.8 226.6h0M576 228h0M577.1 229h0M578.2 229.8h0M579.3 233h0M580.5 226.9h0M581.6 228.8h0M582.7 224.7h0M583.9 227.1h0M585 229.3h0M586.1 229.3h0M587.3 230.2h0M588.4 223.7h0M589.5 224.7h0M590.6 227.7h0M591.8 227.7h0M592.9 228.3h0M594 232.7h0M595.2 228.7h0M596.3 230.2h0M597.4 223.5h0M598.6 224.2h0M599.7 229.5h0M600.8 229.6h0M601.9 228.4h0M603.1 229.3h0M604.2 225.4h0M605.3 225.6h0M606.5 226.3h0M607.6 224.4h0M608.7 227.2h0M609.9 230.7h0M611 229.3h0M612.1 228.8h0M613.2 225.8h0M614.4 226.2h0M615.5 228.9h0M616.6 226h0M617.8 229.7h0M618.9 229.9h0M620 226.9h0M621.1 224.9h0M622.3 225.1h0M623.4 225.7h0M624.5 228.4h0M625.7 232.6h0M626.8 227h0M627.9 227.3h0M629.1 222.9h0M630.2 224.5h0M631.3 221.2h0M632.4 223.9h0M633.6 226.2h0M634.7 220.4h0M635.8 225.8h0M637 223.6h0M638.1 222.7h0M639.2 224h0M640.4 222.6h0M641.5 224.4h0M642.6 224.5h0M643.7 218.6h0M644.9 228.9h0M646 219.4h0M647.1 230.8h0M648.3 223.1h0M649.4 217.9h0M650.5 222.6h0M651.7 222.9h0M652.8 222.2h0M653.9 220.4h0M655 222.9h0M656.2 221.4h0M657.3 228.1h0M658.4 223.7h0M659.6 226h0M660.7 231.6h0M661.8 218.4h0M662.9 218h0M664.1 217.9h0M665.2 227.1h0M666.3 223.9h0M667.5 221.4h0M668.6 225.6h0M669.7 225.1h0M670.9 223.9h0M672 224.6h0M673.1 224.5h0M674.2 226.7h0M675.4 222.7h0M676.5 217.9h0M677.6 228h0M678.8 223.4h0M679.9 229.2h0M681 222.5h0M682.2 223h0M683.3 224.2h0M684.4 226.8h0M685.5 224.1h0M686.7 226.9h0M687.8 221.8h0M688.9 219.4h0M690.1 224.5h0M691.2 219.4h0M692.3 226.5h0M693.4 230.5h0M694.6 224.8h0M695.7 219.9h0M696.8 227.6h0M698 228.6h0M699.1 221.3h0M700.2 228.5h0M701.4 230.9h0M702.5 224.8h0M703.6 224.5h0M704.7 222.5h0M705.9 218.6h0M707 226.9h0M708.1 222.6h0M709.3 216.4h0M710.4 224.9h0M711.5 225.9h0M712.7 231.7h0M713.8 220.3h0M714.9 224.2h0M716 221.9h0M717.2 221h0M718.3 229.2h0M719.4 220.8h0M720.6 224.9h0M721.7 222.9h0M722.8 224.1h0M724 227.8h0M725.1 223.4h0M726.2 226.7h0M727.3 227.3h0M728.5 228.5h0M729.6 222.8h0M730.7 229.3h0M731.9 229.4h0M733 222.4h0M734.1 225.6h0M735.2 223.7h0M736.4 224.5h0M737.5 227h0M738.6 226.6h0M739.8 220.8h0M740.9 224.7h0M742 222.1h0M743.2 227.1h0M744.3 232.5h0M745.4 232.3h0M746.5 230.3h0M747.7 227.3h0M748.8 221.8h0M749.9 228.7h0M751.1 217.8h0M752.2 225.5h0M753.3 229.9h0M754.5 220.6h0M755.6 224.7h0M756.7 225.3h0M757.8 223.8h0M759 221h0M760.1 226.7h0M761.2 220.4h0M762.4 223.7h0M763.5 227.4h0M764.6 225.6h0M765.7 222.2h0M766.9 222.9h0M768 226.4h0M769.1 224.9h0M770.3 221.4h0M771.4 227.7h0M772.5 222.1h0M773.7 223.7h0M774.8 218.6h0M775.9 227h0M777 227.1h0M778.2 225.6h0M779.3 229.3h0M780.4 224.3h0M781.6 224.8h0M782.7 221.3h0M783.8 220.1h0M785 226.2h0M786.1 222.7h0M787.2 232.4h0M788.3 226.8h0M789.5 224.6h0M790.6 228.3h0M791.7 222.8h0M792.9 224.9h0M794 221.5h0M795.1 220.8h0M796.3 226.4h0M797.4 224.2h0M798.5 225h0M799.6 226.5h0M800.8 218.2h0M801.9 225h0M803 222.3h0M804.2 221.4h0M805.3 219.5h0M806.4 219.2h0M807.5 228.1h0M808.7 225.5h0M809.8 224.5h0M810.9 228h0M812.1 227.1h0M813.2 226.4h0M814.3 223h0M815.5 221h0M816.6 223.8h0M817.7 224.9h0M818.8 220.7h0M820 222.6h0M821.1 223.1h0M822.2 226.4h0M823.4 227.9h0M824.5 226.1h0M825.6 226h0M826.8 224.9h0M827.9 218h0M829 220.8h0M830.1 221.4h0M831.3 221.8h0M832.4 224.2h0M833.5 224.4h0M834.7 225.4h0M835.8 220.3h0M836.9 224.3h0M838.1 225.9h0M839.2 221.5h0M840.3 221.4h0M841.4 222.8h0M842.6 224.7h0M843.7 224.8h0M844.8 221.9h0M846 224.6h0M847.1 228h0M848.2 226.2h0M849.3 227.1h0M850.5 227h0M851.6 218.3h0M852.7 223h0M853.9 220h0M855 228h0M856.1 223h0M857.3 224.3h0M858.4 226.8h0M859.5 222.6h0M860.6 223.8h0M861.8 228.5h0M862.9 225.4h0M864 224.1h0M865.2 223.4h0M866.3 227.3h0M867.4 233.1h0M868.6 222.6h0M869.7 225.7h0M870.8 219.9h0M871.9 218.9h0M873.1 224.2h0M874.2 222.3h0M875.3 221h0M876.5 226.8h0M877.6 225.5h0M878.7 224.5h0M879.8 221.5h0M881 224h0M882.1 221.2h0M883.2 226.3h0M884.4 221.7h0M885.5 225.1h0M886.6 223.4h0M887.8 222.4h0M888.9 227.3h0M890 229.2h0M891.1 227.4h0M892.3 224.3h0M893.4 224.5h0M894.5 226.1h0M895.7 221.2h0M896.8 229.7h0M897.9 226.6h0M899.1 224.9h0M900.2 228.5h0M901.3 226h0M902.4 229h0M903.6 225.9h0M904.7 222.3h0M905.8 225.3h0M907 221.4h0M908.1 221.8h0M909.2 220.6h0M910.4 222.7h0M911.5 222.6h0M912.6 224.9h0M913.7 222.1h0M914.9 219h0M916 227.9h0M917.1 206.7h0M918.3 207.1h0M919.4 203.7h0M920.5 206.5h0M921.6 206.2h0M922.8 203.7h0M923.9 209.8h0M925 209.8h0M926.2 205.7h0M927.3 204.2h0M928.4 204.2h0M929.6 203.8h0M930.7 205.6h0M931.8 204.6h0M932.9 206.3h0M934.1 204.7h0M935.2 212.5h0M936.3 206.2h0M937.5 205h0M938.6 203.5h0M939.7 202.4h0M164.1 326.6h0M683.8 241.2h0M685.3 235.2h0M692.7 239.7h0M694.2 245.7h0M718 242.7h0M719.5 236.7h0M727 239.7h0M737.4 235.2h0M744.8 236.7h0M753.8 247.7h0M758.2 236.7h0M764.2 242.7h0M765.7 232.3h0M799.9 233.8h0M825.2 235.2h0M849 245.7h0M857.9 236.7h0M875.8 250.1h0M878.8 238.2h0M881.7 256.1h0M884.7 242.7h0M893.6 245.7h0M902.6 245.7h0M905.5 235.2h0M910 259h0M911.5 245.7h0M929.3 239.7h0M849.6 245.9h0M875.4 249.7h0M881.1 256.3h0M910.6 259.2h0M911.6 245.9h0M902 244.9h0M893.5 244.9h0M884 243h0M878.2 238.2h0M858.2 237.3h0M904.9 235.4h0M889.7 232.5h0M892.5 232.5h0M928.8 230.6h0M929.7 240.1h0M937.4 225.8h0M939.3 213.4h0M924 213.4h0M885.9 216.3h0M895.4 216.3h0M215.8 245h0M225 247h0M252 234.4h0M260.3 231.1h0M338 230.3h0M345 233h0M357.5 246.1h0M375.5 237.2h0M188.9 228.3h0M410.8 240h0M463.6 256.7h0M497 242.2h0M503.9 244.2h0M506.7 263.6h0M624.7 241.4h0" stroke="#b30000" stroke-width="6.6" stroke-linecap="round" fill="none"/>
<path d="M125.2 177h0M126.3 177h0M127.5 176.8h0M128.6 175.5h0M129.7 176.2h0M130.9 175.1h0M132 174.2h0M133.1 173.6h0M134.2 176.3h0M135.4 174.8h0M136.5 176.4h0M137.6 174.8h0M138.8 175h0M139.9 174.8h0M141 175.7h0M142.2 175.9h0M143.3 175.8h0M144.4 175.5h0M145.5 176h0M146.7 176.5h0M147.8 176h0M148.9 175h0M150.1 175.6h0M151.2 176.3h0M152.3 175.8h0M153.5 173.4h0M154.6 174.6h0M155.7 176.7h0M156.8 175.5h0M158 175.9h0M159.1 174.4h0M160.2 175h0M161.4 176.5h0M162.5 174.8h0M164.7 174.1h0M165.9 177.9h0M167 173.5h0M168.1 175.5h0M169.3 176.3h0M170.4 174h0M171.5 175.9h0M172.7 175.4h0M173.8 175.1h0M174.9 175.8h0M176 176.3h0M177.2 175.4h0M178.3 175.6h0M179.4 174.4h0M180.6 175h0M181.7 175.2h0M182.8 176.1h0M184 176.1h0M185.1 174.7h0M186.2 176.7h0M187.3 174.9h0M188.5 175.7h0M189.6 176h0M190.7 176.2h0M191.9 175.7h0M193 174.4h0M194.1 175.4h0M195.3 174.9h0M196.4 175.8h0M197.5 175.9h0M198.6 175.3h0M199.8 176.9h0M200.9 175.4h0M202 174.4h0M203.2 175.2h0M204.3 176.2h0M205.4 174.9h0M206.5 176h0M207.7 175.9h0M208.8 174.6h0M209.9 174.5h0M211.1 175.9h0M212.2 175.6h0M213.3 175.3h0M214.5 177.4h0M215.6 174.7h0M216.7 174.8h0M217.8 175.3h0M219 174.9h0M220.1 174.9h0M221.2 174.9h0M222.4 176.2h0M223.5 177.9h0M224.6 175.3h0M225.8 175.8h0M226.9 175.4h0M228 175.7h0M229.1 176h0M230.3 175.7h0M231.4 175.4h0M232.5 175.4h0M233.7 174.2h0M234.8 175.7h0M235.9 176.1h0M237.1 174.7h0M238.2 176.8h0M239.3 175.9h0M240.4 175.1h0M241.6 177h0M242.7 174.5h0M243.8 173.5h0M245 175.6h0M246.1 174.8h0M247.2 176.2h0M248.3 176h0M249.5 175.5h0M250.6 175.3h0M251.7 174.1h0M252.9 173.5h0M254 176.3h0M255.1 174.9h0M256.3 175.4h0M257.4 176h0M258.5 173.4h0M259.6 176h0M260.8 176h0M261.9 175.7h0M263 175.2h0M264.2 173.5h0M265.3 177.4h0M266.4 175.4h0M267.6 174h0M268.7 174.6h0M269.8 174.7h0M270.9 174.7h0M272.1 175.4h0M273.2 175.9h0M274.3 175.9h0M275.5 175.5h0M276.6 175.6h0M277.7 176h0M278.8 185.1h0M280 174.4h0M281.1 175.7h0M282.2 173.7h0M283.4 175.1h0M284.5 175.7h0M285.6 176.8h0M286.8 174.5h0M287.9 174.5h0M289 175.8h0M290.1 176.6h0M291.3 175.1h0M292.4 173.4h0M293.5 177.3h0M294.7 176.6h0M295.8 176.2h0M296.9 174.4h0M298.1 173.8h0M299.2 174.6h0M300.3 174.7h0M301.4 174h0M302.6 177.2h0M303.7 175.7h0M304.8 174.8h0M306 177.2h0M307.1 176.3h0M308.2 176.9h0M309.4 175.9h0M310.5 175.3h0M311.6 176.3h0M312.7 174.7h0M313.9 174.9h0M315 177.2h0M316.1 176.5h0M317.3 176h0M318.4 175.6h0M319.5 174.9h0M320.6 175.8h0M321.8 174.2h0M322.9 174.8h0M324 173.8h0M325.2 175.9h0M326.3 176.4h0M327.4 175.6h0M328.6 178.3h0M329.7 174.6h0M330.8 174.1h0M331.9 177.4h0M333.1 177.6h0M334.2 175.6h0M335.3 175.4h0M336.5 174.4h0M337.6 174.3h0M338.7 175.7h0M339.9 174.8h0M341 176.4h0M342.1 175h0M343.2 175.7h0M344.4 173.6h0M345.5 174.6h0M346.6 174.5h0M347.8 176.9h0M348.9 175.4h0M350 173.7h0M351.2 176.1h0M352.3 174.6h0M353.4 176.5h0M354.5 175.1h0M355.7 176.8h0M356.8 174.7h0M357.9 186.8h0M359.1 176.2h0M360.2 174.1h0M361.3 173.9h0M362.4 175.3h0M363.6 176.4h0M364.7 177.9h0M365.8 176.1h0M367 174h0M368.1 174.9h0M369.2 175.4h0M370.4 177h0M371.5 174.5h0M372.6 174.6h0M373.7 176.7h0M374.9 176.2h0M376 173.7h0M377.1 175.2h0M378.3 177.9h0M379.4 175.5h0M380.5 176.7h0M381.7 175.1h0M382.8 176.3h0M383.9 173.9h0M385 175.1h0M386.2 176.6h0M387.3 173.8h0M388.4 175.5h0M389.6 176.1h0M390.7 175.5h0M391.8 176.3h0M392.9 175.8h0M394.1 175.2h0M395.2 176h0M396.3 173.7h0M397.5 175h0M398.6 176.5h0M399.7 190.1h0M400.9 176.4h0M402 174.6h0M403.1 175.2h0M404.2 176.2h0M405.4 177.1h0M406.5 174.3h0M407.6 174.7h0M408.8 176.4h0M409.9 176.3h0M411 174.7h0M412.2 175.1h0M413.3 174.9h0M414.4 174.3h0M415.5 174.6h0M416.7 176.5h0M417.8 175.9h0M418.9 176.4h0M420.1 173.8h0M421.2 185h0M422.3 174.2h0M423.5 175h0M424.6 175.1h0M425.7 175.4h0M426.8 174.1h0M428 173.2h0M429.1 174.7h0M430.2 175.8h0M431.4 174.6h0M432.5 173.5h0M433.6 175.9h0M434.7 175.7h0M435.9 176.6h0M437 175.5h0M438.1 176.8h0M439.3 176.3h0M440.4 174.7h0M441.5 175.4h0M442.7 176.1h0M443.8 174.2h0M444.9 174.6h0M446 175.2h0M447.2 173.5h0M448.3 177.3h0M449.4 175.8h0M450.6 176.2h0M451.7 174.9h0M452.8 174.9h0M454 176.9h0M455.1 175.1h0M456.2 174.7h0M457.3 174.9h0M458.5 177.1h0M459.6 177.3h0M460.7 175.7h0M461.9 178h0M463 173.8h0M464.1 174.9h0M465.2 175.2h0M466.4 174.7h0M467.5 176.3h0M468.6 175h0M469.8 175.6h0M470.9 174.7h0M472 176.2h0M473.2 176.6h0M474.3 173.4h0M475.4 174.9h0M476.5 175.7h0M477.7 176h0M478.8 176.8h0M479.9 175.3h0M481.1 175.9h0M482.2 175.6h0M483.3 174.4h0M484.5 175.6h0M485.6 175.5h0M486.7 174.4h0M487.8 175.4h0M489 174.9h0M490.1 176.7h0M491.2 175.8h0M492.4 175.2h0M493.5 175.8h0M494.6 173.9h0M495.8 175.8h0M496.9 174h0M498 176.5h0M499.1 175h0M500.3 177.8h0M501.4 175.5h0M502.5 175.2h0M503.7 175.8h0M504.8 174.1h0M505.9 176.1h0M507 178.3h0M508.2 176.2h0M509.3 174.8h0M510.4 174.8h0M511.6 175.6h0M512.7 174.5h0M513.8 174.2h0M515 174.5h0M516.1 174.1h0M517.2 177.2h0M518.3 174.8h0M519.5 175.4h0M520.6 176.5h0M521.7 175.7h0M522.9 176.2h0M524 175.8h0M525.1 173.7h0M526.3 176.7h0M527.4 174.8h0M528.5 173.7h0M529.6 174.4h0M530.8 177.3h0M531.9 174.1h0M533 174.2h0M534.2 176h0M535.3 177h0M536.4 174.5h0M537.6 176.8h0M538.7 176.1h0M539.8 176.1h0M540.9 175.7h0M542.1 177.2h0M543.2 175.1h0M544.3 176.7h0M545.5 177.9h0M546.6 174.8h0M547.7 175.4h0M548.8 174.8h0M550 176.1h0M551.1 175.5h0M552.2 175.7h0M553.4 178.4h0M554.5 175.9h0M555.6 174.6h0M556.8 175.2h0M557.9 175.5h0M559 175.6h0M560.1 176.4h0M561.3 174.1h0M562.4 175.5h0M563.5 176.4h0M564.7 176.3h0M565.8 176.6h0M566.9 174.2h0M568.1 174.5h0M569.2 174.7h0M570.3 174.6h0M571.4 173.9h0M572.6 174.3h0M573.7 175.3h0M574.8 174.7h0M576 174.1h0M577.1 174h0M578.2 174.9h0M579.3 174.9h0M580.5 176.3h0M581.6 177.2h0M582.7 175.3h0M583.9 174.9h0M585 175.2h0M586.1 175.3h0M587.3 175.1h0M588.4 176.5h0M589.5 175.6h0M590.6 174.6h0M591.8 175.7h0M592.9 188.2h0M594 190.4h0M595.2 174.7h0M596.3 175.4h0M597.4 176h0M598.6 177.1h0M599.7 175.9h0M600.8 173.6h0M601.9 174.7h0M603.1 176.4h0M604.2 177.1h0M605.3 175.5h0M606.5 177.3h0M607.6 175.9h0M608.7 175.7h0M609.9 175.5h0M611 173.6h0M612.1 176.2h0M613.2 176.6h0M614.4 175.4h0M615.5 177.4h0M616.6 175.5h0M617.8 174h0M618.9 177h0M620 176.5h0M621.1 176.1h0M622.3 175.5h0M623.4 175.8h0M624.5 174.8h0M625.7 174.8h0M626.8 175.3h0M627.9 175.7h0M629.1 176.2h0M630.2 176.1h0M631.3 155.7h0M632.4 156.5h0M633.6 156.8h0M634.7 156.9h0M635.8 157.7h0M637 154.4h0M638.1 156.8h0M639.2 155.8h0M640.4 156.3h0M641.5 156h0M642.6 155.8h0M643.7 154.9h0M644.9 158.4h0M646 154.5h0M647.1 157.1h0M648.3 155.2h0M649.4 155.1h0M650.5 154.4h0M651.7 153.6h0M652.8 155.9h0M653.9 155.6h0M655 153.3h0M656.2 156.9h0M657.3 155.2h0M658.4 156.8h0M659.6 156.6h0M660.7 157h0M661.8 153.3h0M662.9 153.7h0M664.1 155.6h0M665.2 155.9h0M666.3 157.3h0M667.5 154.6h0M668.6 154.7h0M669.7 158.7h0M670.9 154.4h0M672 155.5h0M673.1 156.9h0M674.2 156.5h0M675.4 156.1h0M676.5 155.3h0M677.6 154.8h0M678.8 155.9h0M679.9 156.4h0M681 156.1h0M682.2 154.9h0M683.3 157h0M684.4 155.4h0M685.5 155.2h0M686.7 154.9h0M687.8 166.8h0M688.9 156.1h0M690.1 156.3h0M691.2 155.2h0M692.3 154.7h0M693.4 155h0M694.6 156.5h0M695.7 156.6h0M696.8 156.9h0M698 152.8h0M699.1 156.5h0M700.2 154.6h0M701.4 156.3h0M702.5 153.9h0M703.6 156.3h0M704.7 156.1h0M705.9 157.2h0M707 156.5h0M708.1 156.9h0M709.3 155.6h0M710.4 156.3h0M711.5 155.3h0M712.7 156.2h0M713.8 155.1h0M714.9 158.5h0M716 156.8h0M717.2 155.3h0M718.3 154.2h0M719.4 156.7h0M720.6 154.9h0M721.7 154.6h0M722.8 154.4h0M724 155.2h0M725.1 156.2h0M726.2 154.3h0M727.3 155.9h0M728.5 156.1h0M729.6 156.4h0M730.7 155.9h0M731.9 154.1h0M733 155.2h0M734.1 154.2h0M735.2 155.2h0M736.4 157h0M737.5 154.7h0M738.6 154.6h0M739.8 154.1h0M740.9 157.6h0M742 155.1h0M743.2 155.8h0M744.3 156.3h0M745.4 156.8h0M746.5 156.9h0M747.7 156.6h0M748.8 156.5h0M749.9 156h0M751.1 156.2h0M752.2 155.4h0M753.3 156.7h0M754.5 155.4h0M755.6 155.7h0M756.7 155.9h0M757.8 156.2h0M759 155.6h0M760.1 155.9h0M761.2 155.8h0M762.4 154.4h0M763.5 156.7h0M764.6 155.1h0M765.7 156.4h0M766.9 157h0M768 156.8h0M769.1 155.2h0M770.3 156.8h0M771.4 154.6h0M772.5 157.5h0M773.7 156.2h0M774.8 156.8h0M775.9 155.8h0M777 156.1h0M778.2 155.3h0M779.3 156.6h0M780.4 155.1h0M781.6 155.9h0M782.7 154.9h0M783.8 154.9h0M785 158.2h0M786.1 154.7h0M787.2 154.9h0M788.3 156.7h0M789.5 154.7h0M790.6 156.2h0M791.7 156.1h0M792.9 156h0M794 156.9h0M795.1 156.3h0M796.3 154.9h0M797.4 154.9h0M798.5 157.6h0M799.6 158.4h0M800.8 156.4h0M801.9 155.3h0M803 156.1h0M804.2 155.3h0M805.3 157h0M806.4 156.9h0M807.5 156.2h0M808.7 154.9h0M809.8 156.9h0M810.9 156.1h0M812.1 155.5h0M813.2 155.7h0M814.3 153.5h0M815.5 155.6h0M816.6 157.1h0M817.7 156.7h0M818.8 155.2h0M820 156.1h0M821.1 155h0M822.2 156.5h0M823.4 156.1h0M824.5 155.5h0M825.6 157.2h0M826.8 156.5h0M827.9 156.6h0M829 155.6h0M830.1 154.8h0M831.3 155.7h0M832.4 154.6h0M833.5 157.1h0M834.7 156.9h0M835.8 155.5h0M836.9 158.2h0M838.1 154.6h0M839.2 155.4h0M840.3 156.3h0M841.4 155.7h0M842.6 154.3h0M843.7 154.7h0M844.8 155.5h0M846 156.1h0M847.1 154.1h0M848.2 155.8h0M849.3 158.3h0M850.5 155.1h0M851.6 154.9h0M852.7 155.6h0M853.9 156.4h0M855 156.3h0M856.1 155.9h0M857.3 158.5h0M858.4 155.5h0M859.5 154.1h0M860.6 155.3h0M861.8 156.6h0M862.9 155.8h0M864 155h0M865.2 156.1h0M866.3 155.5h0M867.4 156.6h0M868.6 155.3h0M869.7 156.2h0M870.8 156.2h0M871.9 155.6h0M873.1 154.7h0M874.2 158.9h0M875.3 156.2h0M876.5 154.7h0M877.6 156h0M878.7 156.3h0M879.8 155.7h0M881 155.7h0M882.1 155h0M883.2 155.2h0M884.4 155.9h0M885.5 156.3h0M886.6 155.3h0M887.8 156.3h0M888.9 155.9h0M890 155.2h0M891.1 156.2h0M892.3 156.6h0M893.4 156.1h0M894.5 155.2h0M895.7 157.2h0M896.8 155.4h0M897.9 156.1h0M899.1 156.8h0M900.2 156.5h0M901.3 156.3h0M902.4 156h0M903.6 156.3h0M904.7 158.3h0M905.8 155.3h0M907 156.6h0M908.1 155.1h0M909.2 157.2h0M910.4 155h0M911.5 157.2h0M912.6 157.6h0M913.7 156.1h0M914.9 155.1h0M916 155.5h0M917.1 154.7h0M918.3 155.8h0M919.4 155.4h0M920.5 155.7h0M921.6 156.4h0M922.8 157.8h0M923.9 156.5h0M925 156.9h0M926.2 155.4h0M927.3 156h0M928.4 155h0M929.6 156.7h0M930.7 158.4h0M931.8 156.3h0M932.9 155.7h0M934.1 154.7h0M935.2 154.1h0M936.3 155.8h0M937.5 155.7h0M938.6 154.8h0M939.7 156.3h0M164.1 281.7h0M143.6 190h0M150.6 192.2h0M253.3 201.1h0M258.9 193.3h0M262.5 184.4h0M269.4 192.2h0M275.6 182.2h0M289.4 198.9h0M388 188h0M127 181h0M135.3 181h0M403.9 183h0M424.7 181.1h0M454.4 190h0M462.8 189.4h0M483 183.9h0M488.6 195h0M494.2 185.8h0M496.9 187.8h0M521.1 184.4h0M536.7 205.3h0M541.4 183.9h0M552.5 182.2h0M554.4 187.2h0M558.9 198.9h0M583 201.1h0M616.4 181.1h0M624.7 186.7h0M633 161.7h0M640 166.4h0M671.9 174.2h0M694.2 169.8h0M709.1 178.1h0M728.5 168.3h0M762.7 165.3h0M791 163.8h0M893.6 163.8h0M929.3 172.1h0M719 166h0M720 170h0M721 173h0M758 170h0M759 175h0M761 178h0M763 166h0M788 160h0M789 164h0M889 168h0M891 164h0M926 170h0M929 173h0M931 163h0" stroke="#000099" stroke-width="6.6" stroke-linecap="round" fill="none"/>
<polyline points="125.2,480.2 126.3,480.2 127.5,480.2 128.6,480.2 129.7,480.2 130.9,480.2 132,482.6 133.1,480.2 134.2,480.2 135.4,480.2 136.5,480.2 137.6,480.2 138.8,480.2 139.9,480.2 141,480.2 142.2,482.6 143.3,480.2 144.4,480.2 145.5,480.2 146.7,480.2 147.8,480.2 148.9,480.2 150.1,482.6 151.2,480.2 152.3,480.2 153.5,480.2 154.6,480.2 155.7,480.2 156.8,480.2 158,480.2 159.1,482.6 160.2,480.2 161.4,480.2 162.5,480.2 163.6,480.2 164.7,480.2 165.9,480.2 167,480.2 168.1,482.6 169.3,480.2 170.4,480.2 171.5,480.2 172.7,480.2 173.8,480.2 174.9,480.2 176,480.2 177.2,480.2 178.3,480.2 179.4,480.2 180.6,480.2 181.7,480.2 182.8,480.2 184,480.2 185.1,480.2 186.2,480.2 187.3,482.6 188.5,480.2 189.6,480.2 190.7,480.2 191.9,480.2 193,480.2 194.1,480.2 195.3,480.2 196.4,480.2 197.5,480.2 198.6,480.2 199.8,480.2 200.9,480.2 202,480.2 203.2,480.2 204.3,480.2 205.4,480.2 206.5,480.2 207.7,480.2 208.8,480.2 209.9,480.2 211.1,480.2 212.2,480.2 213.3,480.2 214.5,480.2 215.6,480.2 216.7,480.2 217.8,480.2 219,480.2 220.1,480.2 221.2,480.2 222.4,480.2 223.5,480.2 224.6,480.2 225.8,480.2 226.9,480.2 228,480.2 229.1,480.2 230.3,480.2 231.4,480.2 232.5,480.2 233.7,480.2 234.8,480.2 235.9,480.2 237.1,480.2 238.2,480.2 239.3,480.2 240.4,480.2 241.6,480.2 242.7,480.2 243.8,480.2 245,480.2 246.1,480.2 247.2,480.2 248.3,480.2 249.5,480.2 250.6,480.2 251.7,480.2 252.9,480.2 254,480.2 255.1,480.2 256.3,480.2 257.4,480.2 258.5,480.2 259.6,480.2 260.8,480.2 261.9,480.2 263,480.2 264.2,480.2 265.3,480.2 266.4,480.2 267.6,480.2 268.7,480.2 269.8,480.2 270.9,480.2 272.1,480.2 273.2,480.2 274.3,480.2 275.5,480.2 276.6,480.2 277.7,480.2 278.8,490.7 280,480.2 281.1,480.2 282.2,480.2 283.4,480.2 284.5,480.2 285.6,480.2 286.8,480.2 287.9,480.2 289,480.2 290.1,480.2 291.3,480.2 292.4,480.2 293.5,480.2 294.7,480.2 295.8,480.2 296.9,480.2 298.1,480.2 299.2,480.2 300.3,480.2 301.4,480.2 302.6,482.6 303.7,480.2 304.8,480.2 306,480.2 307.1,480.2 308.2,480.2 309.4,480.2 310.5,480.2 311.6,482.6 312.7,480.2 313.9,480.2 315,480.2 316.1,480.2 317.3,480.2 318.4,480.2 319.5,480.2 320.6,480.2 321.8,480.2 322.9,480.2 324,480.2 325.2,480.2 326.3,480.2 327.4,480.2 328.6,480.2 329.7,480.2 330.8,480.2 331.9,480.2 333.1,480.2 334.2,480.2 335.3,480.2 336.5,480.2 337.6,482.6 338.7,480.2 339.9,480.2 341,480.2 342.1,480.2 343.2,480.2 344.4,497.8 345.5,480.2 346.6,480.2 347.8,480.2 348.9,480.2 350,480.2 351.2,480.2 352.3,497.8 353.4,493.3 354.5,497.8 355.7,497 356.8,498.2 357.9,480.2 359.1,480.2 360.2,480.2 361.3,480.2 362.4,480.2 363.6,492.2 364.7,493.3 365.8,494.4 367,498.2 368.1,497.8 369.2,480.2 370.4,480.2 371.5,480.2 372.6,480.2 373.7,480.2 374.9,480.2 376,480.2 377.1,480.2 378.3,480.2 379.4,480.2 380.5,480.2 381.7,480.2 382.8,480.2 383.9,480.2 385,480.2 386.2,480.2 387.3,480.2 388.4,480.2 389.6,480.2 390.7,480.2 391.8,497.8 392.9,480.2 394.1,480.2 395.2,480.2 396.3,480.2 397.5,480.2 398.6,480.2 399.7,480.2 400.9,480.2 402,480.2 403.1,480.2 404.2,480.2 405.4,497 406.5,480.2 407.6,480.2 408.8,480.2 409.9,480.2 411,480.2 412.2,480.2 413.3,480.2 414.4,485.8 415.5,480.2 416.7,497.4 417.8,480.2 418.9,480.2 420.1,480.2 421.2,480.2 422.3,480.2 423.5,480.2 424.6,480.2 425.7,480.2 426.8,480.2 428,480.2 429.1,480.2 430.2,480.2 431.4,480.2 432.5,480.2 433.6,492.9 434.7,497.4 435.9,480.2 437,480.2 438.1,480.2 439.3,480.2 440.4,498.2 441.5,480.2 442.7,480.2 443.8,480.2 444.9,480.2 446,480.2 447.2,480.2 448.3,480.2 449.4,480.2 450.6,480.2 451.7,480.2 452.8,480.2 454,480.2 455.1,480.2 456.2,480.2 457.3,497.8 458.5,496.7 459.6,494.4 460.7,486.5 461.9,498.2 463,497 464.1,498.9 465.2,497.8 466.4,498.2 467.5,493.3 468.6,497.4 469.8,498.5 470.9,497 472,494.4 473.2,497.8 474.3,480.2 475.4,480.2 476.5,480.2 477.7,480.2 478.8,480.2 479.9,480.2 481.1,480.2 482.2,480.2 483.3,480.2 484.5,480.2 485.6,480.2 486.7,480.2 487.8,480.2 489,480.2 490.1,480.2 491.2,480.2 492.4,480.2 493.5,480.2 494.6,480.2 495.8,480.2 496.9,480.2 498,480.2 499.1,480.2 500.3,480.2 501.4,480.2 502.5,480.2 503.7,480.2 504.8,480.2 505.9,480.2 507,480.2 508.2,480.2 509.3,480.2 510.4,480.2 511.6,480.2 512.7,480.2 513.8,480.2 515,480.2 516.1,480.2 517.2,480.2 518.3,480.2 519.5,480.2 520.6,480.2 521.7,498.2 522.9,480.2 524,480.2 525.1,480.2 526.3,480.2 527.4,480.2 528.5,480.2 529.6,495.2 530.8,480.2 531.9,480.2 533,480.2 534.2,480.2 535.3,480.2 536.4,480.2 537.6,480.2 538.7,480.2 539.8,480.2 540.9,480.2 542.1,480.2 543.2,480.2 544.3,480.2 545.5,480.2 546.6,480.2 547.7,480.2 548.8,480.2 550,480.2 551.1,480.2 552.2,480.2 553.4,480.2 554.5,480.2 555.6,484.7 556.8,480.2 557.9,480.2 559,480.2 560.1,480.2 561.3,480.2 562.4,480.2 563.5,480.2 564.7,480.2 565.8,480.2 566.9,480.2 568.1,480.2 569.2,480.2 570.3,480.2 571.4,480.2 572.6,480.2 573.7,480.2 574.8,480.2 576,480.2 577.1,480.2 578.2,480.2 579.3,480.2 580.5,480.2 581.6,480.2 582.7,480.2 583.9,491 585,480.2 586.1,480.2 587.3,480.2 588.4,480.2 589.5,480.2 590.6,480.2 591.8,480.2 592.9,480.2 594,491.4 595.2,480.2 596.3,480.2 597.4,480.2 598.6,480.2 599.7,480.2 600.8,480.2 601.9,480.2 603.1,480.2 604.2,480.2 605.3,480.2 606.5,480.2 607.6,480.2 608.7,480.2 609.9,480.2 611,480.2 612.1,480.2 613.2,480.2 614.4,480.2 615.5,480.2 616.6,480.2 617.8,480.2 618.9,480.2 620,480.2 621.1,480.2 622.3,480.2 623.4,480.2 624.5,480.2 625.7,480.2 626.8,480.2 627.9,480.2 629.1,480.2 630.2,498.9 631.3,498.9 632.4,498.9 633.6,498.9 634.7,498.9 635.8,498.9 637,498.9 638.1,498.9 639.2,498.9 640.4,498.9 641.5,498.9 642.6,498.9 643.7,498.9 644.9,498.9 646,498.9 647.1,498.9 648.3,498.9 649.4,498.9 650.5,498.9 651.7,498.9 652.8,498.9 653.9,498.9 655,498.9 656.2,498.9 657.3,498.9 658.4,498.9 659.6,498.9 660.7,498.9 661.8,498.9 662.9,498.9 664.1,498.9 665.2,498.9 666.3,498.9 667.5,498.9 668.6,498.9 669.7,498.9 670.9,498.9 672,498.9 673.1,498.9 674.2,498.9 675.4,498.9 676.5,498.9 677.6,498.9 678.8,498.9 679.9,498.9 681,498.9 682.2,498.9 683.3,498.9 684.4,498.9 685.5,498.9 686.7,498.9 687.8,498.9 688.9,498.9 690.1,498.9 691.2,498.9 692.3,498.9 693.4,498.9 694.6,498.9 695.7,498.9 696.8,498.9 698,498.9 699.1,498.9 700.2,498.9 701.4,498.9 702.5,498.9 703.6,498.9 704.7,498.9 705.9,498.9 707,498.9 708.1,498.9 709.3,498.9 710.4,498.9 711.5,498.9 712.7,498.9 713.8,498.9 714.9,498.9 716,498.9 717.2,498.9 718.3,498.9 719.4,498.9 720.6,498.9 721.7,498.9 722.8,498.9 724,498.9 725.1,498.9 726.2,498.9 727.3,498.9 728.5,498.9 729.6,498.9 730.7,498.9 731.9,498.9 733,498.9 734.1,498.9 735.2,498.9 736.4,498.9 737.5,498.9 738.6,498.9 739.8,498.9 740.9,498.9 742,498.9 743.2,498.9 744.3,498.9 745.4,498.9 746.5,498.9 747.7,498.9 748.8,498.9 749.9,498.9 751.1,498.9 752.2,498.9 753.3,498.9 754.5,498.9 755.6,498.9 756.7,498.9 757.8,498.9 759,498.9 760.1,498.9 761.2,498.9 762.4,498.9 763.5,498.9 764.6,498.9 765.7,498.9 766.9,498.9 768,498.9 769.1,498.9 770.3,498.9 771.4,498.9 772.5,498.9 773.7,498.9 774.8,498.9 775.9,498.9 777,498.9 778.2,498.9 779.3,498.9 780.4,498.9 781.6,498.9 782.7,498.9 783.8,498.9 785,498.9 786.1,498.9 787.2,498.9 788.3,498.9 789.5,498.9 790.6,498.9 791.7,498.9 792.9,498.9 794,498.9 795.1,498.9 796.3,498.9 797.4,498.9 798.5,498.9 799.6,498.9 800.8,498.9 801.9,498.9 803,498.9 804.2,498.9 805.3,498.9 806.4,498.9 807.5,498.9 808.7,498.9 809.8,498.9 810.9,498.9 812.1,498.9 813.2,498.9 814.3,498.9 815.5,498.9 816.6,498.9 817.7,498.9 818.8,498.9 820,498.9 821.1,498.9 822.2,498.9 823.4,498.9 824.5,498.9 825.6,498.9 826.8,498.9 827.9,498.9 829,498.9 830.1,498.9 831.3,498.9 832.4,498.9 833.5,498.9 834.7,498.9 835.8,498.9 836.9,498.9 838.1,498.9 839.2,498.9 840.3,498.9 841.4,498.9 842.6,498.9 843.7,498.9 844.8,498.9 846,498.9 847.1,498.9 848.2,498.9 849.3,498.9 850.5,498.9 851.6,498.9 852.7,498.9 853.9,498.9 855,498.9 856.1,498.9 857.3,498.9 858.4,498.9 859.5,498.9 860.6,498.9 861.8,498.9 862.9,498.9 864,498.9 865.2,498.9 866.3,498.9 867.4,498.9 868.6,498.9 869.7,498.9 870.8,498.9 871.9,498.9 873.1,498.9 874.2,498.9 875.3,498.9 876.5,498.9 877.6,498.9 878.7,498.9 879.8,498.9 881,498.9 882.1,498.9 883.2,498.9 884.4,498.9 885.5,498.9 886.6,498.9 887.8,498.9 888.9,498.9 890,498.9 891.1,498.9 892.3,498.9 893.4,498.9 894.5,498.9 895.7,498.9 896.8,498.9 897.9,498.9 899.1,498.9 900.2,498.9 901.3,498.9 902.4,498.9 903.6,498.9 904.7,498.9 905.8,498.9 907,498.9 908.1,498.9 909.2,498.9 910.4,498.9 911.5,498.9 912.6,498.9 913.7,498.9 914.9,498.9 916,498.9 917.1,498.9 918.3,498.9 919.4,498.9 920.5,498.9 921.6,498.9 922.8,498.9 923.9,498.9 925,498.9 926.2,498.9 927.3,498.9 928.4,498.9 929.6,498.9 930.7,498.9 931.8,498.9 932.9,498.9 934.1,498.9 935.2,498.9 936.3,498.9 937.5,498.9 938.6,498.9 939.7,498.9" fill="none" stroke="#c38fd0" stroke-width="1.1"/>
<path d="M125.2 480.2h0M126.3 480.2h0M127.5 480.2h0M128.6 480.2h0M129.7 480.2h0M130.9 480.2h0M132 482.6h0M133.1 480.2h0M134.2 480.2h0M135.4 480.2h0M136.5 480.2h0M137.6 480.2h0M138.8 480.2h0M139.9 480.2h0M141 480.2h0M142.2 482.6h0M143.3 480.2h0M144.4 480.2h0M145.5 480.2h0M146.7 480.2h0M147.8 480.2h0M148.9 480.2h0M150.1 482.6h0M151.2 480.2h0M152.3 480.2h0M153.5 480.2h0M154.6 480.2h0M155.7 480.2h0M156.8 480.2h0M158 480.2h0M159.1 482.6h0M160.2 480.2h0M161.4 480.2h0M162.5 480.2h0M163.6 480.2h0M164.7 480.2h0M165.9 480.2h0M167 480.2h0M168.1 482.6h0M169.3 480.2h0M170.4 480.2h0M171.5 480.2h0M172.7 480.2h0M173.8 480.2h0M174.9 480.2h0M176 480.2h0M177.2 480.2h0M178.3 480.2h0M179.4 480.2h0M180.6 480.2h0M181.7 480.2h0M182.8 480.2h0M184 480.2h0M185.1 480.2h0M186.2 480.2h0M187.3 482.6h0M188.5 480.2h0M189.6 480.2h0M190.7 480.2h0M191.9 480.2h0M193 480.2h0M194.1 480.2h0M195.3 480.2h0M196.4 480.2h0M197.5 480.2h0M198.6 480.2h0M199.8 480.2h0M200.9 480.2h0M202 480.2h0M203.2 480.2h0M204.3 480.2h0M205.4 480.2h0M206.5 480.2h0M207.7 480.2h0M208.8 480.2h0M209.9 480.2h0M211.1 480.2h0M212.2 480.2h0M213.3 480.2h0M214.5 480.2h0M215.6 480.2h0M216.7 480.2h0M217.8 480.2h0M219 480.2h0M220.1 480.2h0M221.2 480.2h0M222.4 480.2h0M223.5 480.2h0M224.6 480.2h0M225.8 480.2h0M226.9 480.2h0M228 480.2h0M229.1 480.2h0M230.3 480.2h0M231.4 480.2h0M232.5 480.2h0M233.7 480.2h0M234.8 480.2h0M235.9 480.2h0M237.1 480.2h0M238.2 480.2h0M239.3 480.2h0M240.4 480.2h0M241.6 480.2h0M242.7 480.2h0M243.8 480.2h0M245 480.2h0M246.1 480.2h0M247.2 480.2h0M248.3 480.2h0M249.5 480.2h0M250.6 480.2h0M251.7 480.2h0M252.9 480.2h0M254 480.2h0M255.1 480.2h0M256.3 480.2h0M257.4 480.2h0M258.5 480.2h0M259.6 480.2h0M260.8 480.2h0M261.9 480.2h0M263 480.2h0M264.2 480.2h0M265.3 480.2h0M266.4 480.2h0M267.6 480.2h0M268.7 480.2h0M269.8 480.2h0M270.9 480.2h0M272.1 480.2h0M273.2 480.2h0M274.3 480.2h0M275.5 480.2h0M276.6 480.2h0M277.7 480.2h0M278.8 490.7h0M280 480.2h0M281.1 480.2h0M282.2 480.2h0M283.4 480.2h0M284.5 480.2h0M285.6 480.2h0M286.8 480.2h0M287.9 480.2h0M289 480.2h0M290.1 480.2h0M291.3 480.2h0M292.4 480.2h0M293.5 480.2h0M294.7 480.2h0M295.8 480.2h0M296.9 480.2h0M298.1 480.2h0M299.2 480.2h0M300.3 480.2h0M301.4 480.2h0M302.6 482.6h0M303.7 480.2h0M304.8 480.2h0M306 480.2h0M307.1 480.2h0M308.2 480.2h0M309.4 480.2h0M310.5 480.2h0M311.6 482.6h0M312.7 480.2h0M313.9 480.2h0M315 480.2h0M316.1 480.2h0M317.3 480.2h0M318.4 480.2h0M319.5 480.2h0M320.6 480.2h0M321.8 480.2h0M322.9 480.2h0M324 480.2h0M325.2 480.2h0M326.3 480.2h0M327.4 480.2h0M328.6 480.2h0M329.7 480.2h0M330.8 480.2h0M331.9 480.2h0M333.1 480.2h0M334.2 480.2h0M335.3 480.2h0M336.5 480.2h0M337.6 482.6h0M338.7 480.2h0M339.9 480.2h0M341 480.2h0M342.1 480.2h0M343.2 480.2h0M344.4 497.8h0M345.5 480.2h0M346.6 480.2h0M347.8 480.2h0M348.9 480.2h0M350 480.2h0M351.2 480.2h0M352.3 497.8h0M353.4 493.3h0M354.5 497.8h0M355.7 497h0M356.8 498.2h0M357.9 480.2h0M359.1 480.2h0M360.2 480.2h0M361.3 480.2h0M362.4 480.2h0M363.6 492.2h0M364.7 493.3h0M365.8 494.4h0M367 498.2h0M368.1 497.8h0M369.2 480.2h0M370.4 480.2h0M371.5 480.2h0M372.6 480.2h0M373.7 480.2h0M374.9 480.2h0M376 480.2h0M377.1 480.2h0M378.3 480.2h0M379.4 480.2h0M380.5 480.2h0M381.7 480.2h0M382.8 480.2h0M383.9 480.2h0M385 480.2h0M386.2 480.2h0M387.3 480.2h0M388.4 480.2h0M389.6 480.2h0M390.7 480.2h0M391.8 497.8h0M392.9 480.2h0M394.1 480.2h0M395.2 480.2h0M396.3 480.2h0M397.5 480.2h0M398.6 480.2h0M399.7 480.2h0M400.9 480.2h0M402 480.2h0M403.1 480.2h0M404.2 480.2h0M405.4 497h0M406.5 480.2h0M407.6 480.2h0M408.8 480.2h0M409.9 480.2h0M411 480.2h0M412.2 480.2h0M413.3 480.2h0M414.4 485.8h0M415.5 480.2h0M416.7 497.4h0M417.8 480.2h0M418.9 480.2h0M420.1 480.2h0M421.2 480.2h0M422.3 480.2h0M423.5 480.2h0M424.6 480.2h0M425.7 480.2h0M426.8 480.2h0M428 480.2h0M429.1 480.2h0M430.2 480.2h0M431.4 480.2h0M432.5 480.2h0M433.6 492.9h0M434.7 497.4h0M435.9 480.2h0M437 480.2h0M438.1 480.2h0M439.3 480.2h0M440.4 498.2h0M441.5 480.2h0M442.7 480.2h0M443.8 480.2h0M444.9 480.2h0M446 480.2h0M447.2 480.2h0M448.3 480.2h0M449.4 480.2h0M450.6 480.2h0M451.7 480.2h0M452.8 480.2h0M454 480.2h0M455.1 480.2h0M456.2 480.2h0M457.3 497.8h0M458.5 496.7h0M459.6 494.4h0M460.7 486.5h0M461.9 498.2h0M463 497h0M464.1 498.9h0M465.2 497.8h0M466.4 498.2h0M467.5 493.3h0M468.6 497.4h0M469.8 498.5h0M470.9 497h0M472 494.4h0M473.2 497.8h0M474.3 480.2h0M475.4 480.2h0M476.5 480.2h0M477.7 480.2h0M478.8 480.2h0M479.9 480.2h0M481.1 480.2h0M482.2 480.2h0M483.3 480.2h0M484.5 480.2h0M485.6 480.2h0M486.7 480.2h0M487.8 480.2h0M489 480.2h0M490.1 480.2h0M491.2 480.2h0M492.4 480.2h0M493.5 480.2h0M494.6 480.2h0M495.8 480.2h0M496.9 480.2h0M498 480.2h0M499.1 480.2h0M500.3 480.2h0M501.4 480.2h0M502.5 480.2h0M503.7 480.2h0M504.8 480.2h0M505.9 480.2h0M507 480.2h0M508.2 480.2h0M509.3 480.2h0M510.4 480.2h0M511.6 480.2h0M512.7 480.2h0M513.8 480.2h0M515 480.2h0M516.1 480.2h0M517.2 480.2h0M518.3 480.2h0M519.5 480.2h0M520.6 480.2h0M521.7 498.2h0M522.9 480.2h0M524 480.2h0M525.1 480.2h0M526.3 480.2h0M527.4 480.2h0M528.5 480.2h0M529.6 495.2h0M530.8 480.2h0M531.9 480.2h0M533 480.2h0M534.2 480.2h0M535.3 480.2h0M536.4 480.2h0M537.6 480.2h0M538.7 480.2h0M539.8 480.2h0M540.9 480.2h0M542.1 480.2h0M543.2 480.2h0M544.3 480.2h0M545.5 480.2h0M546.6 480.2h0M547.7 480.2h0M548.8 480.2h0M550 480.2h0M551.1 480.2h0M552.2 480.2h0M553.4 480.2h0M554.5 480.2h0M555.6 484.7h0M556.8 480.2h0M557.9 480.2h0M559 480.2h0M560.1 480.2h0M561.3 480.2h0M562.4 480.2h0M563.5 480.2h0M564.7 480.2h0M565.8 480.2h0M566.9 480.2h0M568.1 480.2h0M569.2 480.2h0M570.3 480.2h0M571.4 480.2h0M572.6 480.2h0M573.7 480.2h0M574.8 480.2h0M576 480.2h0M577.1 480.2h0M578.2 480.2h0M579.3 480.2h0M580.5 480.2h0M581.6 480.2h0M582.7 480.2h0M583.9 491h0M585 480.2h0M586.1 480.2h0M587.3 480.2h0M588.4 480.2h0M589.5 480.2h0M590.6 480.2h0M591.8 480.2h0M592.9 480.2h0M594 491.4h0M595.2 480.2h0M596.3 480.2h0M597.4 480.2h0M598.6 480.2h0M599.7 480.2h0M600.8 480.2h0M601.9 480.2h0M603.1 480.2h0M604.2 480.2h0M605.3 480.2h0M606.5 480.2h0M607.6 480.2h0M608.7 480.2h0M609.9 480.2h0M611 480.2h0M612.1 480.2h0M613.2 480.2h0M614.4 480.2h0M615.5 480.2h0M616.6 480.2h0M617.8 480.2h0M618.9 480.2h0M620 480.2h0M621.1 480.2h0M622.3 480.2h0M623.4 480.2h0M624.5 480.2h0M625.7 480.2h0M626.8 480.2h0M627.9 480.2h0M629.1 480.2h0M630.2 498.9h0M631.3 498.9h0M632.4 498.9h0M633.6 498.9h0M634.7 498.9h0M635.8 498.9h0M637 498.9h0M638.1 498.9h0M639.2 498.9h0M640.4 498.9h0M641.5 498.9h0M642.6 498.9h0M643.7 498.9h0M644.9 498.9h0M646 498.9h0M647.1 498.9h0M648.3 498.9h0M649.4 498.9h0M650.5 498.9h0M651.7 498.9h0M652.8 498.9h0M653.9 498.9h0M655 498.9h0M656.2 498.9h0M657.3 498.9h0M658.4 498.9h0M659.6 498.9h0M660.7 498.9h0M661.8 498.9h0M662.9 498.9h0M664.1 498.9h0M665.2 498.9h0M666.3 498.9h0M667.5 498.9h0M668.6 498.9h0M669.7 498.9h0M670.9 498.9h0M672 498.9h0M673.1 498.9h0M674.2 498.9h0M675.4 498.9h0M676.5 498.9h0M677.6 498.9h0M678.8 498.9h0M679.9 498.9h0M681 498.9h0M682.2 498.9h0M683.3 498.9h0M684.4 498.9h0M685.5 498.9h0M686.7 498.9h0M687.8 498.9h0M688.9 498.9h0M690.1 498.9h0M691.2 498.9h0M692.3 498.9h0M693.4 498.9h0M694.6 498.9h0M695.7 498.9h0M696.8 498.9h0M698 498.9h0M699.1 498.9h0M700.2 498.9h0M701.4 498.9h0M702.5 498.9h0M703.6 498.9h0M704.7 498.9h0M705.9 498.9h0M707 498.9h0M708.1 498.9h0M709.3 498.9h0M710.4 498.9h0M711.5 498.9h0M712.7 498.9h0M713.8 498.9h0M714.9 498.9h0M716 498.9h0M717.2 498.9h0M718.3 498.9h0M719.4 498.9h0M720.6 498.9h0M721.7 498.9h0M722.8 498.9h0M724 498.9h0M725.1 498.9h0M726.2 498.9h0M727.3 498.9h0M728.5 498.9h0M729.6 498.9h0M730.7 498.9h0M731.9 498.9h0M733 498.9h0M734.1 498.9h0M735.2 498.9h0M736.4 498.9h0M737.5 498.9h0M738.6 498.9h0M739.8 498.9h0M740.9 498.9h0M742 498.9h0M743.2 498.9h0M744.3 498.9h0M745.4 498.9h0M746.5 498.9h0M747.7 498.9h0M748.8 498.9h0M749.9 498.9h0M751.1 498.9h0M752.2 498.9h0M753.3 498.9h0M754.5 498.9h0M755.6 498.9h0M756.7 498.9h0M757.8 498.9h0M759 498.9h0M760.1 498.9h0M761.2 498.9h0M762.4 498.9h0M763.5 498.9h0M764.6 498.9h0M765.7 498.9h0M766.9 498.9h0M768 498.9h0M769.1 498.9h0M770.3 498.9h0M771.4 498.9h0M772.5 498.9h0M773.7 498.9h0M774.8 498.9h0M775.9 498.9h0M777 498.9h0M778.2 498.9h0M779.3 498.9h0M780.4 498.9h0M781.6 498.9h0M782.7 498.9h0M783.8 498.9h0M785 498.9h0M786.1 498.9h0M787.2 498.9h0M788.3 498.9h0M789.5 498.9h0M790.6 498.9h0M791.7 498.9h0M792.9 498.9h0M794 498.9h0M795.1 498.9h0M796.3 498.9h0M797.4 498.9h0M798.5 498.9h0M799.6 498.9h0M800.8 498.9h0M801.9 498.9h0M803 498.9h0M804.2 498.9h0M805.3 498.9h0M806.4 498.9h0M807.5 498.9h0M808.7 498.9h0M809.8 498.9h0M810.9 498.9h0M812.1 498.9h0M813.2 498.9h0M814.3 498.9h0M815.5 498.9h0M816.6 498.9h0M817.7 498.9h0M818.8 498.9h0M820 498.9h0M821.1 498.9h0M822.2 498.9h0M823.4 498.9h0M824.5 498.9h0M825.6 498.9h0M826.8 498.9h0M827.9 498.9h0M829 498.9h0M830.1 498.9h0M831.3 498.9h0M832.4 498.9h0M833.5 498.9h0M834.7 498.9h0M835.8 498.9h0M836.9 498.9h0M838.1 498.9h0M839.2 498.9h0M840.3 498.9h0M841.4 498.9h0M842.6 498.9h0M843.7 498.9h0M844.8 498.9h0M846 498.9h0M847.1 498.9h0M848.2 498.9h0M849.3 498.9h0M850.5 498.9h0M851.6 498.9h0M852.7 498.9h0M853.9 498.9h0M855 498.9h0M856.1 498.9h0M857.3 498.9h0M858.4 498.9h0M859.5 498.9h0M860.6 498.9h0M861.8 498.9h0M862.9 498.9h0M864 498.9h0M865.2 498.9h0M866.3 498.9h0M867.4 498.9h0M868.6 498.9h0M869.7 498.9h0M870.8 498.9h0M871.9 498.9h0M873.1 498.9h0M874.2 498.9h0M875.3 498.9h0M876.5 498.9h0M877.6 498.9h0M878.7 498.9h0M879.8 498.9h0M881 498.9h0M882.1 498.9h0M883.2 498.9h0M884.4 498.9h0M885.5 498.9h0M886.6 498.9h0M887.8 498.9h0M888.9 498.9h0M890 498.9h0M891.1 498.9h0M892.3 498.9h0M893.4 498.9h0M894.5 498.9h0M895.7 498.9h0M896.8 498.9h0M897.9 498.9h0M899.1 498.9h0M900.2 498.9h0M901.3 498.9h0M902.4 498.9h0M903.6 498.9h0M904.7 498.9h0M905.8 498.9h0M907 498.9h0M908.1 498.9h0M909.2 498.9h0M910.4 498.9h0M911.5 498.9h0M912.6 498.9h0M913.7 498.9h0M914.9 498.9h0M916 498.9h0M917.1 498.9h0M918.3 498.9h0M919.4 498.9h0M920.5 498.9h0M921.6 498.9h0M922.8 498.9h0M923.9 498.9h0M925 498.9h0M926.2 498.9h0M927.3 498.9h0M928.4 498.9h0M929.6 498.9h0M930.7 498.9h0M931.8 498.9h0M932.9 498.9h0M934.1 498.9h0M935.2 498.9h0M936.3 498.9h0M937.5 498.9h0M938.6 498.9h0M939.7 498.9h0" stroke="#c38fd0" stroke-width="5.8" stroke-linecap="round" fill="none"/>
<polyline points="124.5,480.2 629.5,480.2 629.5,498.9 949.4,498.9" fill="none" stroke="#000" stroke-width="2.78" stroke-dasharray="2.78 4.58"/>
<circle cx="629.5" cy="480.2" r="2.7" fill="#000"/>
<circle cx="629.5" cy="498.9" r="2.7" fill="#000"/>
<circle cx="126.3" cy="118.3" r="3.1" fill="#8080c0"/>
<line x1="128.1" x2="939.7" y1="118.3" y2="118.3" stroke="#660066" stroke-width="6.2" stroke-linecap="round"/>
<rect x="121.8" y="111.9" width="867.9" height="390.8" fill="none" stroke="#000" stroke-width="2.2"/>
<line x1="121.8" x2="989.7" y1="125" y2="125" stroke="#000" stroke-width="2.2"/>
<line x1="112.1" x2="121.8" y1="498.9" y2="498.9" stroke="#000" stroke-width="2.2"/>
<line x1="112.1" x2="121.8" y1="423.9" y2="423.9" stroke="#000" stroke-width="2.2"/>
<line x1="112.1" x2="121.8" y1="348.9" y2="348.9" stroke="#000" stroke-width="2.2"/>
<line x1="112.1" x2="121.8" y1="273.9" y2="273.9" stroke="#000" stroke-width="2.2"/>
<line x1="112.1" x2="121.8" y1="198.9" y2="198.9" stroke="#000" stroke-width="2.2"/>
<line x1="112.1" x2="121.8" y1="125" y2="125" stroke="#000" stroke-width="2.2"/>
<line x1="116.2" x2="121.8" y1="461.4" y2="461.4" stroke="#000" stroke-width="2.2"/>
<line x1="116.2" x2="121.8" y1="386.4" y2="386.4" stroke="#000" stroke-width="2.2"/>
<line x1="116.2" x2="121.8" y1="311.4" y2="311.4" stroke="#000" stroke-width="2.2"/>
<line x1="116.2" x2="121.8" y1="236.4" y2="236.4" stroke="#000" stroke-width="2.2"/>
<line x1="116.2" x2="121.8" y1="161.9" y2="161.9" stroke="#000" stroke-width="2.2"/>
<text x="102.4" y="508" font-size="26.5" text-anchor="end" font-weight="normal" font-style="normal" textLength="14.5" lengthAdjust="spacingAndGlyphs" >0</text>
<text x="102.4" y="433" font-size="26.5" text-anchor="end" font-weight="normal" font-style="normal" textLength="31.2" lengthAdjust="spacingAndGlyphs" >20</text>
<text x="102.4" y="358" font-size="26.5" text-anchor="end" font-weight="normal" font-style="normal" textLength="31.2" lengthAdjust="spacingAndGlyphs" >40</text>
<text x="102.4" y="283" font-size="26.5" text-anchor="end" font-weight="normal" font-style="normal" textLength="31.2" lengthAdjust="spacingAndGlyphs" >60</text>
<text x="102.4" y="208" font-size="26.5" text-anchor="end" font-weight="normal" font-style="normal" textLength="31.2" lengthAdjust="spacingAndGlyphs" >80</text>
<text x="102.4" y="134.1" font-size="26.5" text-anchor="end" font-weight="normal" font-style="normal" textLength="47" lengthAdjust="spacingAndGlyphs" >100</text>
<line x1="133.1" x2="133.1" y1="502.7" y2="508.3" stroke="#000" stroke-width="2.2"/>
<line x1="165.9" x2="165.9" y1="502.7" y2="508.3" stroke="#000" stroke-width="2.2"/>
<line x1="200.9" x2="200.9" y1="502.7" y2="512.4" stroke="#000" stroke-width="2.2"/>
<text x="201.2" y="542.1" font-size="26.5" text-anchor="middle" font-weight="normal" font-style="normal" textLength="101.5" lengthAdjust="spacingAndGlyphs" >04/2024</text>
<line x1="234.8" x2="234.8" y1="502.7" y2="508.3" stroke="#000" stroke-width="2.2"/>
<line x1="269.8" x2="269.8" y1="502.7" y2="508.3" stroke="#000" stroke-width="2.2"/>
<line x1="303.7" x2="303.7" y1="502.7" y2="508.3" stroke="#000" stroke-width="2.2"/>
<line x1="338.7" x2="338.7" y1="502.7" y2="508.3" stroke="#000" stroke-width="2.2"/>
<line x1="373.7" x2="373.7" y1="502.7" y2="508.3" stroke="#000" stroke-width="2.2"/>
<line x1="407.6" x2="407.6" y1="502.7" y2="512.4" stroke="#000" stroke-width="2.2"/>
<text x="407.9" y="542.1" font-size="26.5" text-anchor="middle" font-weight="normal" font-style="normal" textLength="101.5" lengthAdjust="spacingAndGlyphs" >10/2024</text>
<line x1="442.7" x2="442.7" y1="502.7" y2="508.3" stroke="#000" stroke-width="2.2"/>
<line x1="476.5" x2="476.5" y1="502.7" y2="508.3" stroke="#000" stroke-width="2.2"/>
<line x1="511.6" x2="511.6" y1="502.7" y2="508.3" stroke="#000" stroke-width="2.2"/>
<line x1="546.6" x2="546.6" y1="502.7" y2="508.3" stroke="#000" stroke-width="2.2"/>
<line x1="578.2" x2="578.2" y1="502.7" y2="508.3" stroke="#000" stroke-width="2.2"/>
<line x1="613.2" x2="613.2" y1="502.7" y2="512.4" stroke="#000" stroke-width="2.2"/>
<text x="613.5" y="542.1" font-size="26.5" text-anchor="middle" font-weight="normal" font-style="normal" textLength="101.5" lengthAdjust="spacingAndGlyphs" >04/2025</text>
<line x1="647.1" x2="647.1" y1="502.7" y2="508.3" stroke="#000" stroke-width="2.2"/>
<line x1="682.2" x2="682.2" y1="502.7" y2="508.3" stroke="#000" stroke-width="2.2"/>
<line x1="716" x2="716" y1="502.7" y2="508.3" stroke="#000" stroke-width="2.2"/>
<line x1="751.1" x2="751.1" y1="502.7" y2="508.3" stroke="#000" stroke-width="2.2"/>
<line x1="786.1" x2="786.1" y1="502.7" y2="508.3" stroke="#000" stroke-width="2.2"/>
<line x1="820" x2="820" y1="502.7" y2="512.4" stroke="#000" stroke-width="2.2"/>
<text x="820.3" y="542.1" font-size="26.5" text-anchor="middle" font-weight="normal" font-style="normal" textLength="101.5" lengthAdjust="spacingAndGlyphs" >10/2025</text>
<line x1="855" x2="855" y1="502.7" y2="508.3" stroke="#000" stroke-width="2.2"/>
<line x1="888.9" x2="888.9" y1="502.7" y2="508.3" stroke="#000" stroke-width="2.2"/>
<line x1="923.9" x2="923.9" y1="502.7" y2="508.3" stroke="#000" stroke-width="2.2"/>
<line x1="958.9" x2="958.9" y1="502.7" y2="508.3" stroke="#000" stroke-width="2.2"/>
<text x="555.5" y="576.7" font-size="26.5" text-anchor="middle" font-weight="normal" font-style="normal" textLength="139.5" lengthAdjust="spacingAndGlyphs" >Month/Year</text>
<g transform="translate(37.9 315.35) rotate(-90)">
<text x="0" y="0" font-size="26.5" text-anchor="middle" font-weight="normal" font-style="normal" textLength="328" lengthAdjust="spacingAndGlyphs" >Obs/Exp Observations (%)</text>
</g>
<g transform="translate(965.2 153.6) rotate(90)">
<text x="0" y="0" font-size="24" text-anchor="middle" font-weight="normal" font-style="normal" textLength="38.6" lengthAdjust="spacingAndGlyphs" >Now</text>
</g>
<rect x="36.8" y="598.4" width="949.5" height="80" rx="5" ry="5" fill="#fff" stroke="#d6d6d6" stroke-width="2.6"/>
<circle cx="58.4" cy="618.3" r="4" fill="#fdba02"/>
<text x="72.5" y="626.1" font-size="26.5" text-anchor="start" font-weight="normal" font-style="normal" textLength="105" lengthAdjust="spacingAndGlyphs" >BDS 2+f</text>
<circle cx="58.4" cy="654.3" r="4" fill="#339933"/>
<text x="71.7" y="662.1" font-size="26.5" text-anchor="start" font-weight="normal" font-style="normal" textLength="103" lengthAdjust="spacingAndGlyphs" >GAL 2+f</text>
<circle cx="229.5" cy="618.3" r="4" fill="#b30000"/>
<text x="243.3" y="626.1" font-size="26.5" text-anchor="start" font-weight="normal" font-style="normal" textLength="107.2" lengthAdjust="spacingAndGlyphs" >GLO 2+f</text>
<circle cx="229.5" cy="654.3" r="4" fill="#000099"/>
<text x="243.3" y="662.1" font-size="26.5" text-anchor="start" font-weight="normal" font-style="normal" textLength="105.2" lengthAdjust="spacingAndGlyphs" >GPS 2+f</text>
<line x1="387" x2="412" y1="618.3" y2="618.3" stroke="#c38fd0" stroke-width="1.1"/>
<circle cx="399.4" cy="618.3" r="4.2" fill="#c38fd0"/>
<text x="413.5" y="626.1" font-size="26.5" text-anchor="start" font-weight="normal" font-style="normal" textLength="91" lengthAdjust="spacingAndGlyphs" >obs ele</text>
<line x1="387.4" x2="412" y1="654.3" y2="654.3" stroke="#000" stroke-width="2.78" stroke-dasharray="2.78 4.58"/>
<circle cx="399.4" cy="654.3" r="2.6" fill="#000"/>
<text x="413.7" y="662.1" font-size="26.5" text-anchor="start" font-weight="normal" font-style="normal" textLength="85" lengthAdjust="spacingAndGlyphs" >log ele</text>
<circle cx="554.3" cy="618.3" r="4" fill="#8080c0"/>
<text x="569" y="626.1" font-size="26.5" text-anchor="start" font-weight="normal" font-style="normal" textLength="91" lengthAdjust="spacingAndGlyphs" >RINEX2</text>
<circle cx="711.4" cy="618.3" r="4" fill="#660066"/>
<text x="725.7" y="626.1" font-size="26.5" text-anchor="start" font-weight="normal" font-style="normal" textLength="91" lengthAdjust="spacingAndGlyphs" >RINEX3</text>
<circle cx="869" cy="618.3" r="4" fill="#220022"/>
<text x="883.3" y="626.1" font-size="26.5" text-anchor="start" font-weight="normal" font-style="normal" textLength="91" lengthAdjust="spacingAndGlyphs" >RINEX4</text>
<text x="34.6" y="709.5" font-size="19.9" text-anchor="start" font-weight="normal" font-style="italic" textLength="253" lengthAdjust="spacingAndGlyphs" >Thu Jan 22 13:20:37 2026</text>
<text x="838.7" y="709.6" font-size="19.9" text-anchor="start" font-weight="normal" font-style="italic" textLength="130" lengthAdjust="spacingAndGlyphs" >&#169;GNSS@ROB</text>
</svg>
</body></html>
